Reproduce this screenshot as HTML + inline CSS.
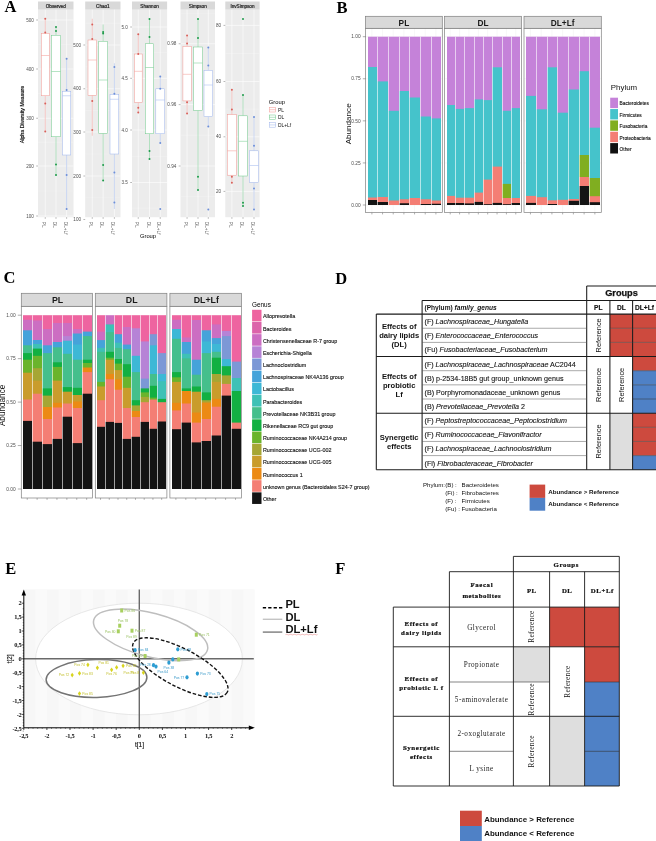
<!DOCTYPE html>
<html><head><meta charset="utf-8"><style>
html,body{margin:0;padding:0;background:#fff;width:656px;height:841px;overflow:hidden}
svg{display:block;will-change:transform}
</style></head><body>
<svg width="656" height="841" viewBox="0 0 656 841">
<rect x="0" y="0" width="656" height="841" fill="#fff"/>
<text x="4.5" y="12.3" font-size="16.5" text-anchor="start" font-weight="bold" font-style="normal" fill="#000" font-family="'Liberation Serif', serif">A</text>
<text x="336.5" y="13.2" font-size="16.5" text-anchor="start" font-weight="bold" font-style="normal" fill="#000" font-family="'Liberation Serif', serif">B</text>
<text x="3.5" y="283.2" font-size="16.5" text-anchor="start" font-weight="bold" font-style="normal" fill="#000" font-family="'Liberation Serif', serif">C</text>
<text x="335.3" y="283.5" font-size="16.5" text-anchor="start" font-weight="bold" font-style="normal" fill="#000" font-family="'Liberation Serif', serif">D</text>
<text x="5.3" y="574.0" font-size="16.5" text-anchor="start" font-weight="bold" font-style="normal" fill="#000" font-family="'Liberation Serif', serif">E</text>
<text x="335.3" y="574.2" font-size="16.5" text-anchor="start" font-weight="bold" font-style="normal" fill="#000" font-family="'Liberation Serif', serif">F</text>
<rect x="38.00" y="9.60" width="35.50" height="207.60" fill="#ECECEC"/>
<rect x="38.00" y="1.50" width="35.50" height="8.10" fill="#D9D9D9"/>
<text x="55.75" y="7.5" font-size="4.6" text-anchor="middle" font-weight="normal" font-style="normal" fill="#222222" font-family="'Liberation Sans', sans-serif" stroke="#222" stroke-width="0.2">Observed</text>
<line x1="38.00" y1="20.00" x2="73.50" y2="20.00" stroke="#FFFFFF" stroke-width="0.6"/>
<text x="33.8" y="21.6" font-size="4.6" text-anchor="end" font-weight="normal" font-style="normal" fill="#4D4D4D" font-family="'Liberation Sans', sans-serif">500</text>
<line x1="36.20" y1="20.00" x2="38.00" y2="20.00" stroke="#4D4D4D" stroke-width="0.4"/>
<line x1="38.00" y1="44.50" x2="73.50" y2="44.50" stroke="#F5F5F5" stroke-width="0.35"/>
<line x1="38.00" y1="69.00" x2="73.50" y2="69.00" stroke="#FFFFFF" stroke-width="0.6"/>
<text x="33.8" y="70.6" font-size="4.6" text-anchor="end" font-weight="normal" font-style="normal" fill="#4D4D4D" font-family="'Liberation Sans', sans-serif">400</text>
<line x1="36.20" y1="69.00" x2="38.00" y2="69.00" stroke="#4D4D4D" stroke-width="0.4"/>
<line x1="38.00" y1="93.62" x2="73.50" y2="93.62" stroke="#F5F5F5" stroke-width="0.35"/>
<line x1="38.00" y1="118.25" x2="73.50" y2="118.25" stroke="#FFFFFF" stroke-width="0.6"/>
<text x="33.8" y="119.85" font-size="4.6" text-anchor="end" font-weight="normal" font-style="normal" fill="#4D4D4D" font-family="'Liberation Sans', sans-serif">300</text>
<line x1="36.20" y1="118.25" x2="38.00" y2="118.25" stroke="#4D4D4D" stroke-width="0.4"/>
<line x1="38.00" y1="142.12" x2="73.50" y2="142.12" stroke="#F5F5F5" stroke-width="0.35"/>
<line x1="38.00" y1="166.00" x2="73.50" y2="166.00" stroke="#FFFFFF" stroke-width="0.6"/>
<text x="33.8" y="167.6" font-size="4.6" text-anchor="end" font-weight="normal" font-style="normal" fill="#4D4D4D" font-family="'Liberation Sans', sans-serif">200</text>
<line x1="36.20" y1="166.00" x2="38.00" y2="166.00" stroke="#4D4D4D" stroke-width="0.4"/>
<line x1="38.00" y1="191.00" x2="73.50" y2="191.00" stroke="#F5F5F5" stroke-width="0.35"/>
<line x1="38.00" y1="216.00" x2="73.50" y2="216.00" stroke="#FFFFFF" stroke-width="0.6"/>
<text x="33.8" y="217.6" font-size="4.6" text-anchor="end" font-weight="normal" font-style="normal" fill="#4D4D4D" font-family="'Liberation Sans', sans-serif">100</text>
<line x1="36.20" y1="216.00" x2="38.00" y2="216.00" stroke="#4D4D4D" stroke-width="0.4"/>
<line x1="45.25" y1="9.60" x2="45.25" y2="217.20" stroke="#FFFFFF" stroke-width="0.6"/>
<line x1="56.00" y1="9.60" x2="56.00" y2="217.20" stroke="#FFFFFF" stroke-width="0.6"/>
<line x1="66.62" y1="9.60" x2="66.62" y2="217.20" stroke="#FFFFFF" stroke-width="0.6"/>
<line x1="45.25" y1="18.75" x2="45.25" y2="33.25" stroke="#F29690" stroke-width="0.5"/>
<line x1="45.25" y1="95.75" x2="45.25" y2="132.00" stroke="#F29690" stroke-width="0.5"/>
<rect x="41.25" y="33.25" width="8.00" height="62.50" fill="#FFFFFF" stroke="#F29690" stroke-width="0.5"/>
<line x1="41.25" y1="55.50" x2="49.25" y2="55.50" stroke="#F29690" stroke-width="0.5"/>
<circle cx="45.25" cy="18.75" r="1.0" fill="#D8605A"/>
<circle cx="45.25" cy="32.50" r="1.0" fill="#D8605A"/>
<circle cx="45.25" cy="103.50" r="1.0" fill="#D8605A"/>
<circle cx="45.25" cy="131.50" r="1.0" fill="#D8605A"/>
<line x1="45.25" y1="217.20" x2="45.25" y2="218.80" stroke="#4D4D4D" stroke-width="0.4"/>
<text x="42.35" y="221.79999999999998" font-size="4.7" text-anchor="start" font-weight="normal" font-style="normal" fill="#555555" font-family="'Liberation Sans', sans-serif" transform="rotate(90 42.35 221.79999999999998)">PL</text>
<line x1="56.00" y1="27.50" x2="56.00" y2="35.25" stroke="#6CC888" stroke-width="0.5"/>
<line x1="56.00" y1="136.75" x2="56.00" y2="175.75" stroke="#6CC888" stroke-width="0.5"/>
<rect x="51.50" y="35.25" width="9.00" height="101.50" fill="#FFFFFF" stroke="#6CC888" stroke-width="0.5"/>
<line x1="51.50" y1="71.50" x2="60.50" y2="71.50" stroke="#6CC888" stroke-width="0.5"/>
<circle cx="56.00" cy="27.00" r="1.0" fill="#1E9A4A"/>
<circle cx="56.00" cy="31.00" r="1.0" fill="#1E9A4A"/>
<circle cx="56.00" cy="164.50" r="1.0" fill="#1E9A4A"/>
<circle cx="56.00" cy="175.00" r="1.0" fill="#1E9A4A"/>
<line x1="56.00" y1="217.20" x2="56.00" y2="218.80" stroke="#4D4D4D" stroke-width="0.4"/>
<text x="53.1" y="221.79999999999998" font-size="4.7" text-anchor="start" font-weight="normal" font-style="normal" fill="#555555" font-family="'Liberation Sans', sans-serif" transform="rotate(90 53.1 221.79999999999998)">DL</text>
<line x1="66.62" y1="58.75" x2="66.62" y2="91.25" stroke="#9DB4EC" stroke-width="0.5"/>
<line x1="66.62" y1="155.00" x2="66.62" y2="209.00" stroke="#9DB4EC" stroke-width="0.5"/>
<rect x="62.50" y="91.25" width="8.25" height="63.75" fill="#FFFFFF" stroke="#9DB4EC" stroke-width="0.5"/>
<line x1="62.50" y1="95.75" x2="70.75" y2="95.75" stroke="#9DB4EC" stroke-width="0.5"/>
<circle cx="66.62" cy="58.75" r="1.0" fill="#6D8FD8"/>
<circle cx="66.62" cy="90.00" r="1.0" fill="#6D8FD8"/>
<circle cx="66.62" cy="175.00" r="1.0" fill="#6D8FD8"/>
<circle cx="66.62" cy="209.00" r="1.0" fill="#6D8FD8"/>
<line x1="66.62" y1="217.20" x2="66.62" y2="218.80" stroke="#4D4D4D" stroke-width="0.4"/>
<text x="63.725" y="221.79999999999998" font-size="4.7" text-anchor="start" font-weight="normal" font-style="normal" fill="#555555" font-family="'Liberation Sans', sans-serif" transform="rotate(90 63.725 221.79999999999998)">DL+Lf</text>
<rect x="85.20" y="9.60" width="35.30" height="207.60" fill="#ECECEC"/>
<rect x="85.20" y="1.50" width="35.30" height="8.10" fill="#D9D9D9"/>
<text x="102.85" y="7.5" font-size="4.6" text-anchor="middle" font-weight="normal" font-style="normal" fill="#222222" font-family="'Liberation Sans', sans-serif" stroke="#222" stroke-width="0.2">Chao1</text>
<line x1="85.20" y1="45.00" x2="120.50" y2="45.00" stroke="#FFFFFF" stroke-width="0.6"/>
<text x="81.0" y="46.6" font-size="4.6" text-anchor="end" font-weight="normal" font-style="normal" fill="#4D4D4D" font-family="'Liberation Sans', sans-serif">500</text>
<line x1="83.40" y1="45.00" x2="85.20" y2="45.00" stroke="#4D4D4D" stroke-width="0.4"/>
<line x1="85.20" y1="66.88" x2="120.50" y2="66.88" stroke="#F5F5F5" stroke-width="0.35"/>
<line x1="85.20" y1="88.75" x2="120.50" y2="88.75" stroke="#FFFFFF" stroke-width="0.6"/>
<text x="81.0" y="90.35" font-size="4.6" text-anchor="end" font-weight="normal" font-style="normal" fill="#4D4D4D" font-family="'Liberation Sans', sans-serif">400</text>
<line x1="83.40" y1="88.75" x2="85.20" y2="88.75" stroke="#4D4D4D" stroke-width="0.4"/>
<line x1="85.20" y1="110.38" x2="120.50" y2="110.38" stroke="#F5F5F5" stroke-width="0.35"/>
<line x1="85.20" y1="132.00" x2="120.50" y2="132.00" stroke="#FFFFFF" stroke-width="0.6"/>
<text x="81.0" y="133.6" font-size="4.6" text-anchor="end" font-weight="normal" font-style="normal" fill="#4D4D4D" font-family="'Liberation Sans', sans-serif">300</text>
<line x1="83.40" y1="132.00" x2="85.20" y2="132.00" stroke="#4D4D4D" stroke-width="0.4"/>
<line x1="85.20" y1="154.00" x2="120.50" y2="154.00" stroke="#F5F5F5" stroke-width="0.35"/>
<line x1="85.20" y1="176.00" x2="120.50" y2="176.00" stroke="#FFFFFF" stroke-width="0.6"/>
<text x="81.0" y="177.6" font-size="4.6" text-anchor="end" font-weight="normal" font-style="normal" fill="#4D4D4D" font-family="'Liberation Sans', sans-serif">200</text>
<line x1="83.40" y1="176.00" x2="85.20" y2="176.00" stroke="#4D4D4D" stroke-width="0.4"/>
<line x1="85.20" y1="197.75" x2="120.50" y2="197.75" stroke="#F5F5F5" stroke-width="0.35"/>
<line x1="85.20" y1="219.50" x2="120.50" y2="219.50" stroke="#FFFFFF" stroke-width="0.6"/>
<text x="81.0" y="221.1" font-size="4.6" text-anchor="end" font-weight="normal" font-style="normal" fill="#4D4D4D" font-family="'Liberation Sans', sans-serif">100</text>
<line x1="83.40" y1="219.50" x2="85.20" y2="219.50" stroke="#4D4D4D" stroke-width="0.4"/>
<line x1="85.20" y1="23.12" x2="120.50" y2="23.12" stroke="#F5F5F5" stroke-width="0.35"/>
<line x1="92.25" y1="9.60" x2="92.25" y2="217.20" stroke="#FFFFFF" stroke-width="0.6"/>
<line x1="103.12" y1="9.60" x2="103.12" y2="217.20" stroke="#FFFFFF" stroke-width="0.6"/>
<line x1="114.38" y1="9.60" x2="114.38" y2="217.20" stroke="#FFFFFF" stroke-width="0.6"/>
<line x1="92.25" y1="18.75" x2="92.25" y2="40.00" stroke="#F29690" stroke-width="0.5"/>
<line x1="92.25" y1="95.25" x2="92.25" y2="135.75" stroke="#F29690" stroke-width="0.5"/>
<rect x="88.00" y="40.00" width="8.50" height="55.25" fill="#FFFFFF" stroke="#F29690" stroke-width="0.5"/>
<line x1="88.00" y1="60.00" x2="96.50" y2="60.00" stroke="#F29690" stroke-width="0.5"/>
<circle cx="92.25" cy="24.50" r="1.0" fill="#D8605A"/>
<circle cx="92.25" cy="39.00" r="1.0" fill="#D8605A"/>
<circle cx="92.25" cy="101.00" r="1.0" fill="#D8605A"/>
<circle cx="92.25" cy="130.00" r="1.0" fill="#D8605A"/>
<line x1="92.25" y1="217.20" x2="92.25" y2="218.80" stroke="#4D4D4D" stroke-width="0.4"/>
<text x="89.35" y="221.79999999999998" font-size="4.7" text-anchor="start" font-weight="normal" font-style="normal" fill="#555555" font-family="'Liberation Sans', sans-serif" transform="rotate(90 89.35 221.79999999999998)">PL</text>
<line x1="103.12" y1="24.50" x2="103.12" y2="41.25" stroke="#6CC888" stroke-width="0.5"/>
<line x1="103.12" y1="133.25" x2="103.12" y2="181.00" stroke="#6CC888" stroke-width="0.5"/>
<rect x="98.75" y="41.25" width="8.75" height="92.00" fill="#FFFFFF" stroke="#6CC888" stroke-width="0.5"/>
<line x1="98.75" y1="80.00" x2="107.50" y2="80.00" stroke="#6CC888" stroke-width="0.5"/>
<circle cx="103.12" cy="32.00" r="1.0" fill="#1E9A4A"/>
<circle cx="103.12" cy="33.50" r="1.0" fill="#1E9A4A"/>
<circle cx="103.12" cy="165.00" r="1.0" fill="#1E9A4A"/>
<circle cx="103.12" cy="180.50" r="1.0" fill="#1E9A4A"/>
<line x1="103.12" y1="217.20" x2="103.12" y2="218.80" stroke="#4D4D4D" stroke-width="0.4"/>
<text x="100.225" y="221.79999999999998" font-size="4.7" text-anchor="start" font-weight="normal" font-style="normal" fill="#555555" font-family="'Liberation Sans', sans-serif" transform="rotate(90 100.225 221.79999999999998)">DL</text>
<line x1="114.38" y1="63.25" x2="114.38" y2="94.25" stroke="#9DB4EC" stroke-width="0.5"/>
<line x1="114.38" y1="154.00" x2="114.38" y2="209.00" stroke="#9DB4EC" stroke-width="0.5"/>
<rect x="110.00" y="94.25" width="8.75" height="59.75" fill="#FFFFFF" stroke="#9DB4EC" stroke-width="0.5"/>
<line x1="110.00" y1="99.25" x2="118.75" y2="99.25" stroke="#9DB4EC" stroke-width="0.5"/>
<circle cx="114.38" cy="67.00" r="1.0" fill="#6D8FD8"/>
<circle cx="114.38" cy="93.75" r="1.0" fill="#6D8FD8"/>
<circle cx="114.38" cy="172.50" r="1.0" fill="#6D8FD8"/>
<circle cx="114.38" cy="202.50" r="1.0" fill="#6D8FD8"/>
<line x1="114.38" y1="217.20" x2="114.38" y2="218.80" stroke="#4D4D4D" stroke-width="0.4"/>
<text x="111.475" y="221.79999999999998" font-size="4.7" text-anchor="start" font-weight="normal" font-style="normal" fill="#555555" font-family="'Liberation Sans', sans-serif" transform="rotate(90 111.475 221.79999999999998)">DL+Lf</text>
<rect x="132.00" y="9.60" width="35.10" height="207.60" fill="#ECECEC"/>
<rect x="132.00" y="1.50" width="35.10" height="8.10" fill="#D9D9D9"/>
<text x="149.55" y="7.5" font-size="4.6" text-anchor="middle" font-weight="normal" font-style="normal" fill="#222222" font-family="'Liberation Sans', sans-serif" stroke="#222" stroke-width="0.2">Shannon</text>
<line x1="132.00" y1="27.00" x2="167.10" y2="27.00" stroke="#FFFFFF" stroke-width="0.6"/>
<text x="127.8" y="28.6" font-size="4.6" text-anchor="end" font-weight="normal" font-style="normal" fill="#4D4D4D" font-family="'Liberation Sans', sans-serif">5.0</text>
<line x1="130.20" y1="27.00" x2="132.00" y2="27.00" stroke="#4D4D4D" stroke-width="0.4"/>
<line x1="132.00" y1="52.65" x2="167.10" y2="52.65" stroke="#F5F5F5" stroke-width="0.35"/>
<line x1="132.00" y1="78.30" x2="167.10" y2="78.30" stroke="#FFFFFF" stroke-width="0.6"/>
<text x="127.8" y="79.89999999999999" font-size="4.6" text-anchor="end" font-weight="normal" font-style="normal" fill="#4D4D4D" font-family="'Liberation Sans', sans-serif">4.5</text>
<line x1="130.20" y1="78.30" x2="132.00" y2="78.30" stroke="#4D4D4D" stroke-width="0.4"/>
<line x1="132.00" y1="104.15" x2="167.10" y2="104.15" stroke="#F5F5F5" stroke-width="0.35"/>
<line x1="132.00" y1="130.00" x2="167.10" y2="130.00" stroke="#FFFFFF" stroke-width="0.6"/>
<text x="127.8" y="131.6" font-size="4.6" text-anchor="end" font-weight="normal" font-style="normal" fill="#4D4D4D" font-family="'Liberation Sans', sans-serif">4.0</text>
<line x1="130.20" y1="130.00" x2="132.00" y2="130.00" stroke="#4D4D4D" stroke-width="0.4"/>
<line x1="132.00" y1="156.25" x2="167.10" y2="156.25" stroke="#F5F5F5" stroke-width="0.35"/>
<line x1="132.00" y1="182.50" x2="167.10" y2="182.50" stroke="#FFFFFF" stroke-width="0.6"/>
<text x="127.8" y="184.1" font-size="4.6" text-anchor="end" font-weight="normal" font-style="normal" fill="#4D4D4D" font-family="'Liberation Sans', sans-serif">3.5</text>
<line x1="130.20" y1="182.50" x2="132.00" y2="182.50" stroke="#4D4D4D" stroke-width="0.4"/>
<line x1="132.00" y1="208.15" x2="167.10" y2="208.15" stroke="#F5F5F5" stroke-width="0.35"/>
<line x1="138.25" y1="9.60" x2="138.25" y2="217.20" stroke="#FFFFFF" stroke-width="0.6"/>
<line x1="149.50" y1="9.60" x2="149.50" y2="217.20" stroke="#FFFFFF" stroke-width="0.6"/>
<line x1="160.25" y1="9.60" x2="160.25" y2="217.20" stroke="#FFFFFF" stroke-width="0.6"/>
<line x1="138.25" y1="34.20" x2="138.25" y2="54.00" stroke="#F29690" stroke-width="0.5"/>
<line x1="138.25" y1="102.40" x2="138.25" y2="112.60" stroke="#F29690" stroke-width="0.5"/>
<rect x="134.30" y="54.00" width="7.90" height="48.40" fill="#FFFFFF" stroke="#F29690" stroke-width="0.5"/>
<line x1="134.30" y1="71.30" x2="142.20" y2="71.30" stroke="#F29690" stroke-width="0.5"/>
<circle cx="138.25" cy="34.20" r="1.0" fill="#D8605A"/>
<circle cx="138.25" cy="54.00" r="1.0" fill="#D8605A"/>
<circle cx="138.25" cy="107.80" r="1.0" fill="#D8605A"/>
<circle cx="138.25" cy="112.60" r="1.0" fill="#D8605A"/>
<line x1="138.25" y1="217.20" x2="138.25" y2="218.80" stroke="#4D4D4D" stroke-width="0.4"/>
<text x="135.35" y="221.79999999999998" font-size="4.7" text-anchor="start" font-weight="normal" font-style="normal" fill="#555555" font-family="'Liberation Sans', sans-serif" transform="rotate(90 135.35 221.79999999999998)">PL</text>
<line x1="149.50" y1="19.00" x2="149.50" y2="43.75" stroke="#6CC888" stroke-width="0.5"/>
<line x1="149.50" y1="133.75" x2="149.50" y2="159.00" stroke="#6CC888" stroke-width="0.5"/>
<rect x="145.40" y="43.75" width="8.20" height="90.00" fill="#FFFFFF" stroke="#6CC888" stroke-width="0.5"/>
<line x1="145.40" y1="67.50" x2="153.60" y2="67.50" stroke="#6CC888" stroke-width="0.5"/>
<circle cx="149.50" cy="19.00" r="1.0" fill="#1E9A4A"/>
<circle cx="149.50" cy="37.00" r="1.0" fill="#1E9A4A"/>
<circle cx="149.50" cy="151.00" r="1.0" fill="#1E9A4A"/>
<circle cx="149.50" cy="159.00" r="1.0" fill="#1E9A4A"/>
<line x1="149.50" y1="217.20" x2="149.50" y2="218.80" stroke="#4D4D4D" stroke-width="0.4"/>
<text x="146.6" y="221.79999999999998" font-size="4.7" text-anchor="start" font-weight="normal" font-style="normal" fill="#555555" font-family="'Liberation Sans', sans-serif" transform="rotate(90 146.6 221.79999999999998)">DL</text>
<line x1="160.25" y1="76.40" x2="160.25" y2="88.80" stroke="#9DB4EC" stroke-width="0.5"/>
<line x1="160.25" y1="133.75" x2="160.25" y2="143.00" stroke="#9DB4EC" stroke-width="0.5"/>
<rect x="155.80" y="88.80" width="8.90" height="44.95" fill="#FFFFFF" stroke="#9DB4EC" stroke-width="0.5"/>
<line x1="155.80" y1="100.00" x2="164.70" y2="100.00" stroke="#9DB4EC" stroke-width="0.5"/>
<circle cx="160.25" cy="76.40" r="1.0" fill="#6D8FD8"/>
<circle cx="160.25" cy="88.80" r="1.0" fill="#6D8FD8"/>
<circle cx="160.25" cy="143.00" r="1.0" fill="#6D8FD8"/>
<circle cx="160.25" cy="209.00" r="1.0" fill="#6D8FD8"/>
<line x1="160.25" y1="217.20" x2="160.25" y2="218.80" stroke="#4D4D4D" stroke-width="0.4"/>
<text x="157.35" y="221.79999999999998" font-size="4.7" text-anchor="start" font-weight="normal" font-style="normal" fill="#555555" font-family="'Liberation Sans', sans-serif" transform="rotate(90 157.35 221.79999999999998)">DL+Lf</text>
<rect x="180.50" y="9.60" width="34.50" height="207.60" fill="#ECECEC"/>
<rect x="180.50" y="1.50" width="34.50" height="8.10" fill="#D9D9D9"/>
<text x="197.75" y="7.5" font-size="4.6" text-anchor="middle" font-weight="normal" font-style="normal" fill="#222222" font-family="'Liberation Sans', sans-serif" stroke="#222" stroke-width="0.2">Simpson</text>
<line x1="180.50" y1="43.75" x2="215.00" y2="43.75" stroke="#FFFFFF" stroke-width="0.6"/>
<text x="176.3" y="45.35" font-size="4.6" text-anchor="end" font-weight="normal" font-style="normal" fill="#4D4D4D" font-family="'Liberation Sans', sans-serif">0.98</text>
<line x1="178.70" y1="43.75" x2="180.50" y2="43.75" stroke="#4D4D4D" stroke-width="0.4"/>
<line x1="180.50" y1="74.17" x2="215.00" y2="74.17" stroke="#F5F5F5" stroke-width="0.35"/>
<line x1="180.50" y1="104.60" x2="215.00" y2="104.60" stroke="#FFFFFF" stroke-width="0.6"/>
<text x="176.3" y="106.19999999999999" font-size="4.6" text-anchor="end" font-weight="normal" font-style="normal" fill="#4D4D4D" font-family="'Liberation Sans', sans-serif">0.96</text>
<line x1="178.70" y1="104.60" x2="180.50" y2="104.60" stroke="#4D4D4D" stroke-width="0.4"/>
<line x1="180.50" y1="135.30" x2="215.00" y2="135.30" stroke="#F5F5F5" stroke-width="0.35"/>
<line x1="180.50" y1="166.00" x2="215.00" y2="166.00" stroke="#FFFFFF" stroke-width="0.6"/>
<text x="176.3" y="167.6" font-size="4.6" text-anchor="end" font-weight="normal" font-style="normal" fill="#4D4D4D" font-family="'Liberation Sans', sans-serif">0.94</text>
<line x1="178.70" y1="166.00" x2="180.50" y2="166.00" stroke="#4D4D4D" stroke-width="0.4"/>
<line x1="180.50" y1="13.33" x2="215.00" y2="13.33" stroke="#F5F5F5" stroke-width="0.35"/>
<line x1="180.50" y1="196.43" x2="215.00" y2="196.43" stroke="#F5F5F5" stroke-width="0.35"/>
<line x1="187.07" y1="9.60" x2="187.07" y2="217.20" stroke="#FFFFFF" stroke-width="0.6"/>
<line x1="198.00" y1="9.60" x2="198.00" y2="217.20" stroke="#FFFFFF" stroke-width="0.6"/>
<line x1="208.30" y1="9.60" x2="208.30" y2="217.20" stroke="#FFFFFF" stroke-width="0.6"/>
<line x1="187.07" y1="35.40" x2="187.07" y2="46.40" stroke="#F29690" stroke-width="0.5"/>
<line x1="187.07" y1="100.90" x2="187.07" y2="113.60" stroke="#F29690" stroke-width="0.5"/>
<rect x="182.90" y="46.40" width="8.35" height="54.50" fill="#FFFFFF" stroke="#F29690" stroke-width="0.5"/>
<line x1="182.90" y1="74.30" x2="191.25" y2="74.30" stroke="#F29690" stroke-width="0.5"/>
<circle cx="187.07" cy="35.40" r="1.0" fill="#D8605A"/>
<circle cx="187.07" cy="43.40" r="1.0" fill="#D8605A"/>
<circle cx="187.07" cy="102.30" r="1.0" fill="#D8605A"/>
<circle cx="187.07" cy="113.60" r="1.0" fill="#D8605A"/>
<line x1="187.07" y1="217.20" x2="187.07" y2="218.80" stroke="#4D4D4D" stroke-width="0.4"/>
<text x="184.17499999999998" y="221.79999999999998" font-size="4.7" text-anchor="start" font-weight="normal" font-style="normal" fill="#555555" font-family="'Liberation Sans', sans-serif" transform="rotate(90 184.17499999999998 221.79999999999998)">PL</text>
<line x1="198.00" y1="19.00" x2="198.00" y2="47.00" stroke="#6CC888" stroke-width="0.5"/>
<line x1="198.00" y1="110.40" x2="198.00" y2="190.00" stroke="#6CC888" stroke-width="0.5"/>
<rect x="193.60" y="47.00" width="8.80" height="63.40" fill="#FFFFFF" stroke="#6CC888" stroke-width="0.5"/>
<line x1="193.60" y1="63.00" x2="202.40" y2="63.00" stroke="#6CC888" stroke-width="0.5"/>
<circle cx="198.00" cy="19.00" r="1.0" fill="#1E9A4A"/>
<circle cx="198.00" cy="38.00" r="1.0" fill="#1E9A4A"/>
<circle cx="198.00" cy="176.80" r="1.0" fill="#1E9A4A"/>
<circle cx="198.00" cy="190.00" r="1.0" fill="#1E9A4A"/>
<line x1="198.00" y1="217.20" x2="198.00" y2="218.80" stroke="#4D4D4D" stroke-width="0.4"/>
<text x="195.1" y="221.79999999999998" font-size="4.7" text-anchor="start" font-weight="normal" font-style="normal" fill="#555555" font-family="'Liberation Sans', sans-serif" transform="rotate(90 195.1 221.79999999999998)">DL</text>
<line x1="208.30" y1="47.50" x2="208.30" y2="70.40" stroke="#9DB4EC" stroke-width="0.5"/>
<line x1="208.30" y1="116.50" x2="208.30" y2="126.60" stroke="#9DB4EC" stroke-width="0.5"/>
<rect x="204.00" y="70.40" width="8.60" height="46.10" fill="#FFFFFF" stroke="#9DB4EC" stroke-width="0.5"/>
<line x1="204.00" y1="85.00" x2="212.60" y2="85.00" stroke="#9DB4EC" stroke-width="0.5"/>
<circle cx="208.30" cy="47.50" r="1.0" fill="#6D8FD8"/>
<circle cx="208.30" cy="65.60" r="1.0" fill="#6D8FD8"/>
<circle cx="208.30" cy="126.60" r="1.0" fill="#6D8FD8"/>
<circle cx="208.30" cy="209.50" r="1.0" fill="#6D8FD8"/>
<line x1="208.30" y1="217.20" x2="208.30" y2="218.80" stroke="#4D4D4D" stroke-width="0.4"/>
<text x="205.4" y="221.79999999999998" font-size="4.7" text-anchor="start" font-weight="normal" font-style="normal" fill="#555555" font-family="'Liberation Sans', sans-serif" transform="rotate(90 205.4 221.79999999999998)">DL+Lf</text>
<rect x="225.30" y="9.60" width="34.30" height="207.60" fill="#ECECEC"/>
<rect x="225.30" y="1.50" width="34.30" height="8.10" fill="#D9D9D9"/>
<text x="242.45000000000002" y="7.5" font-size="4.6" text-anchor="middle" font-weight="normal" font-style="normal" fill="#222222" font-family="'Liberation Sans', sans-serif" stroke="#222" stroke-width="0.2">InvSimpson</text>
<line x1="225.30" y1="25.40" x2="259.60" y2="25.40" stroke="#FFFFFF" stroke-width="0.6"/>
<text x="221.10000000000002" y="27.0" font-size="4.6" text-anchor="end" font-weight="normal" font-style="normal" fill="#4D4D4D" font-family="'Liberation Sans', sans-serif">80</text>
<line x1="223.50" y1="25.40" x2="225.30" y2="25.40" stroke="#4D4D4D" stroke-width="0.4"/>
<line x1="225.30" y1="53.45" x2="259.60" y2="53.45" stroke="#F5F5F5" stroke-width="0.35"/>
<line x1="225.30" y1="81.50" x2="259.60" y2="81.50" stroke="#FFFFFF" stroke-width="0.6"/>
<text x="221.10000000000002" y="83.1" font-size="4.6" text-anchor="end" font-weight="normal" font-style="normal" fill="#4D4D4D" font-family="'Liberation Sans', sans-serif">60</text>
<line x1="223.50" y1="81.50" x2="225.30" y2="81.50" stroke="#4D4D4D" stroke-width="0.4"/>
<line x1="225.30" y1="109.15" x2="259.60" y2="109.15" stroke="#F5F5F5" stroke-width="0.35"/>
<line x1="225.30" y1="136.80" x2="259.60" y2="136.80" stroke="#FFFFFF" stroke-width="0.6"/>
<text x="221.10000000000002" y="138.4" font-size="4.6" text-anchor="end" font-weight="normal" font-style="normal" fill="#4D4D4D" font-family="'Liberation Sans', sans-serif">40</text>
<line x1="223.50" y1="136.80" x2="225.30" y2="136.80" stroke="#4D4D4D" stroke-width="0.4"/>
<line x1="225.30" y1="164.10" x2="259.60" y2="164.10" stroke="#F5F5F5" stroke-width="0.35"/>
<line x1="225.30" y1="191.40" x2="259.60" y2="191.40" stroke="#FFFFFF" stroke-width="0.6"/>
<text x="221.10000000000002" y="193.0" font-size="4.6" text-anchor="end" font-weight="normal" font-style="normal" fill="#4D4D4D" font-family="'Liberation Sans', sans-serif">20</text>
<line x1="223.50" y1="191.40" x2="225.30" y2="191.40" stroke="#4D4D4D" stroke-width="0.4"/>
<line x1="231.90" y1="9.60" x2="231.90" y2="217.20" stroke="#FFFFFF" stroke-width="0.6"/>
<line x1="243.00" y1="9.60" x2="243.00" y2="217.20" stroke="#FFFFFF" stroke-width="0.6"/>
<line x1="254.00" y1="9.60" x2="254.00" y2="217.20" stroke="#FFFFFF" stroke-width="0.6"/>
<line x1="231.90" y1="89.70" x2="231.90" y2="114.70" stroke="#F29690" stroke-width="0.5"/>
<line x1="231.90" y1="175.20" x2="231.90" y2="182.80" stroke="#F29690" stroke-width="0.5"/>
<rect x="227.40" y="114.70" width="9.00" height="60.50" fill="#FFFFFF" stroke="#F29690" stroke-width="0.5"/>
<line x1="227.40" y1="150.80" x2="236.40" y2="150.80" stroke="#F29690" stroke-width="0.5"/>
<circle cx="231.90" cy="89.70" r="1.0" fill="#D8605A"/>
<circle cx="231.90" cy="109.50" r="1.0" fill="#D8605A"/>
<circle cx="231.90" cy="176.70" r="1.0" fill="#D8605A"/>
<circle cx="231.90" cy="182.80" r="1.0" fill="#D8605A"/>
<line x1="231.90" y1="217.20" x2="231.90" y2="218.80" stroke="#4D4D4D" stroke-width="0.4"/>
<text x="229.0" y="221.79999999999998" font-size="4.7" text-anchor="start" font-weight="normal" font-style="normal" fill="#555555" font-family="'Liberation Sans', sans-serif" transform="rotate(90 229.0 221.79999999999998)">PL</text>
<line x1="243.00" y1="95.00" x2="243.00" y2="115.80" stroke="#6CC888" stroke-width="0.5"/>
<line x1="243.00" y1="176.00" x2="243.00" y2="206.00" stroke="#6CC888" stroke-width="0.5"/>
<rect x="238.70" y="115.80" width="8.60" height="60.20" fill="#FFFFFF" stroke="#6CC888" stroke-width="0.5"/>
<line x1="238.70" y1="141.30" x2="247.30" y2="141.30" stroke="#6CC888" stroke-width="0.5"/>
<circle cx="243.00" cy="19.00" r="1.0" fill="#1E9A4A"/>
<circle cx="243.00" cy="95.00" r="1.0" fill="#1E9A4A"/>
<circle cx="243.00" cy="202.70" r="1.0" fill="#1E9A4A"/>
<circle cx="243.00" cy="206.00" r="1.0" fill="#1E9A4A"/>
<line x1="243.00" y1="217.20" x2="243.00" y2="218.80" stroke="#4D4D4D" stroke-width="0.4"/>
<text x="240.1" y="221.79999999999998" font-size="4.7" text-anchor="start" font-weight="normal" font-style="normal" fill="#555555" font-family="'Liberation Sans', sans-serif" transform="rotate(90 240.1 221.79999999999998)">DL</text>
<line x1="254.00" y1="117.00" x2="254.00" y2="150.80" stroke="#9DB4EC" stroke-width="0.5"/>
<line x1="254.00" y1="182.40" x2="254.00" y2="209.50" stroke="#9DB4EC" stroke-width="0.5"/>
<rect x="249.50" y="150.80" width="9.00" height="31.60" fill="#FFFFFF" stroke="#9DB4EC" stroke-width="0.5"/>
<line x1="249.50" y1="165.50" x2="258.50" y2="165.50" stroke="#9DB4EC" stroke-width="0.5"/>
<circle cx="254.00" cy="117.00" r="1.0" fill="#6D8FD8"/>
<circle cx="254.00" cy="145.80" r="1.0" fill="#6D8FD8"/>
<circle cx="254.00" cy="188.50" r="1.0" fill="#6D8FD8"/>
<circle cx="254.00" cy="209.50" r="1.0" fill="#6D8FD8"/>
<line x1="254.00" y1="217.20" x2="254.00" y2="218.80" stroke="#4D4D4D" stroke-width="0.4"/>
<text x="251.1" y="221.79999999999998" font-size="4.7" text-anchor="start" font-weight="normal" font-style="normal" fill="#555555" font-family="'Liberation Sans', sans-serif" transform="rotate(90 251.1 221.79999999999998)">DL+Lf</text>
<text x="24.0" y="114.6" font-size="5.3" text-anchor="middle" font-weight="normal" font-style="normal" fill="#000" font-family="'Liberation Sans', sans-serif" transform="rotate(-90 24.0 114.6)" stroke="#000" stroke-width="0.15">Alpha Diversity Measure</text>
<text x="148" y="237.5" font-size="5.8" text-anchor="middle" font-weight="normal" font-style="normal" fill="#000" font-family="'Liberation Sans', sans-serif">Group</text>
<text x="268.8" y="104.2" font-size="5.8" text-anchor="start" font-weight="normal" font-style="normal" fill="#000" font-family="'Liberation Sans', sans-serif">Group</text>
<rect x="269.40" y="107.40" width="6.20" height="4.60" fill="#FFFFFF" stroke="#F29690" stroke-width="0.5"/>
<line x1="269.40" y1="109.70" x2="275.60" y2="109.70" stroke="#F29690" stroke-width="0.5"/>
<text x="278" y="111.7" font-size="4.9" text-anchor="start" font-weight="normal" font-style="normal" fill="#111" font-family="'Liberation Sans', sans-serif">PL</text>
<rect x="269.40" y="115.00" width="6.20" height="4.60" fill="#FFFFFF" stroke="#6CC888" stroke-width="0.5"/>
<line x1="269.40" y1="117.30" x2="275.60" y2="117.30" stroke="#6CC888" stroke-width="0.5"/>
<text x="278" y="119.3" font-size="4.9" text-anchor="start" font-weight="normal" font-style="normal" fill="#111" font-family="'Liberation Sans', sans-serif">DL</text>
<rect x="269.40" y="122.60" width="6.20" height="4.60" fill="#FFFFFF" stroke="#9DB4EC" stroke-width="0.5"/>
<line x1="269.40" y1="124.90" x2="275.60" y2="124.90" stroke="#9DB4EC" stroke-width="0.5"/>
<text x="278" y="126.9" font-size="4.9" text-anchor="start" font-weight="normal" font-style="normal" fill="#111" font-family="'Liberation Sans', sans-serif">DL+Lf</text>
<rect x="365.50" y="28.30" width="76.80" height="184.30" fill="#FFFFFF"/>
<line x1="365.50" y1="205.00" x2="442.30" y2="205.00" stroke="#EBEBEB" stroke-width="0.4"/>
<line x1="365.50" y1="162.93" x2="442.30" y2="162.93" stroke="#EBEBEB" stroke-width="0.4"/>
<line x1="365.50" y1="120.85" x2="442.30" y2="120.85" stroke="#EBEBEB" stroke-width="0.4"/>
<line x1="365.50" y1="78.77" x2="442.30" y2="78.77" stroke="#EBEBEB" stroke-width="0.4"/>
<line x1="365.50" y1="36.70" x2="442.30" y2="36.70" stroke="#EBEBEB" stroke-width="0.4"/>
<line x1="371.90" y1="28.30" x2="371.90" y2="212.60" stroke="#EBEBEB" stroke-width="0.4"/>
<line x1="382.57" y1="28.30" x2="382.57" y2="212.60" stroke="#EBEBEB" stroke-width="0.4"/>
<line x1="393.23" y1="28.30" x2="393.23" y2="212.60" stroke="#EBEBEB" stroke-width="0.4"/>
<line x1="403.90" y1="28.30" x2="403.90" y2="212.60" stroke="#EBEBEB" stroke-width="0.4"/>
<line x1="414.57" y1="28.30" x2="414.57" y2="212.60" stroke="#EBEBEB" stroke-width="0.4"/>
<line x1="425.23" y1="28.30" x2="425.23" y2="212.60" stroke="#EBEBEB" stroke-width="0.4"/>
<line x1="435.90" y1="28.30" x2="435.90" y2="212.60" stroke="#EBEBEB" stroke-width="0.4"/>
<rect x="368.00" y="36.70" width="9.00" height="168.30" fill="#C582D9"/>
<rect x="368.00" y="67.00" width="9.00" height="138.00" fill="#45C3CB"/>
<rect x="368.00" y="197.50" width="9.00" height="7.50" fill="#F47E74"/>
<rect x="368.00" y="200.00" width="9.00" height="5.00" fill="#141414"/>
<line x1="371.90" y1="212.60" x2="371.90" y2="214.40" stroke="#333333" stroke-width="0.4"/>
<rect x="377.00" y="36.70" width="11.00" height="168.30" fill="#C582D9"/>
<rect x="377.00" y="81.40" width="11.00" height="123.60" fill="#45C3CB"/>
<rect x="377.00" y="197.00" width="11.00" height="8.00" fill="#F47E74"/>
<rect x="377.00" y="202.00" width="11.00" height="3.00" fill="#141414"/>
<rect x="377.00" y="36.70" width="1.00" height="168.30" fill="#FFFFFF" opacity="0.6"/>
<line x1="382.57" y1="212.60" x2="382.57" y2="214.40" stroke="#333333" stroke-width="0.4"/>
<rect x="388.00" y="36.70" width="11.00" height="168.30" fill="#C582D9"/>
<rect x="388.00" y="110.80" width="11.00" height="94.20" fill="#45C3CB"/>
<rect x="388.00" y="200.50" width="11.00" height="4.50" fill="#F47E74"/>
<rect x="388.00" y="36.70" width="1.00" height="168.30" fill="#FFFFFF" opacity="0.6"/>
<line x1="393.23" y1="212.60" x2="393.23" y2="214.40" stroke="#333333" stroke-width="0.4"/>
<rect x="399.00" y="36.70" width="10.00" height="168.30" fill="#C582D9"/>
<rect x="399.00" y="91.00" width="10.00" height="114.00" fill="#45C3CB"/>
<rect x="399.00" y="199.25" width="10.00" height="5.75" fill="#F47E74"/>
<rect x="399.00" y="203.25" width="10.00" height="1.75" fill="#141414"/>
<rect x="399.00" y="36.70" width="1.00" height="168.30" fill="#FFFFFF" opacity="0.6"/>
<line x1="403.90" y1="212.60" x2="403.90" y2="214.40" stroke="#333333" stroke-width="0.4"/>
<rect x="409.00" y="36.70" width="11.00" height="168.30" fill="#C582D9"/>
<rect x="409.00" y="97.50" width="11.00" height="107.50" fill="#45C3CB"/>
<rect x="409.00" y="198.00" width="11.00" height="7.00" fill="#F47E74"/>
<rect x="409.00" y="36.70" width="1.00" height="168.30" fill="#FFFFFF" opacity="0.6"/>
<line x1="414.57" y1="212.60" x2="414.57" y2="214.40" stroke="#333333" stroke-width="0.4"/>
<rect x="420.00" y="36.70" width="11.00" height="168.30" fill="#C582D9"/>
<rect x="420.00" y="116.50" width="11.00" height="88.50" fill="#45C3CB"/>
<rect x="420.00" y="199.25" width="11.00" height="5.75" fill="#F47E74"/>
<rect x="420.00" y="204.00" width="11.00" height="1.00" fill="#141414"/>
<rect x="420.00" y="36.70" width="1.00" height="168.30" fill="#FFFFFF" opacity="0.6"/>
<line x1="425.23" y1="212.60" x2="425.23" y2="214.40" stroke="#333333" stroke-width="0.4"/>
<rect x="431.00" y="36.70" width="10.00" height="168.30" fill="#C582D9"/>
<rect x="431.00" y="118.40" width="10.00" height="86.60" fill="#45C3CB"/>
<rect x="431.00" y="200.50" width="10.00" height="4.50" fill="#F47E74"/>
<rect x="431.00" y="203.75" width="10.00" height="1.25" fill="#141414"/>
<rect x="431.00" y="36.70" width="1.00" height="168.30" fill="#FFFFFF" opacity="0.6"/>
<line x1="435.90" y1="212.60" x2="435.90" y2="214.40" stroke="#333333" stroke-width="0.4"/>
<rect x="365.50" y="28.30" width="76.80" height="184.30" fill="none" stroke="#7F7F7F" stroke-width="0.7"/>
<rect x="365.50" y="16.30" width="76.80" height="12.00" fill="#D9D9D9" stroke="#7F7F7F" stroke-width="0.7"/>
<text x="403.9" y="25.5" font-size="8.3" text-anchor="middle" font-weight="bold" font-style="normal" fill="#1A1A1A" font-family="'Liberation Sans', sans-serif">PL</text>
<rect x="444.60" y="28.30" width="76.80" height="184.30" fill="#FFFFFF"/>
<line x1="444.60" y1="205.00" x2="521.40" y2="205.00" stroke="#EBEBEB" stroke-width="0.4"/>
<line x1="444.60" y1="162.93" x2="521.40" y2="162.93" stroke="#EBEBEB" stroke-width="0.4"/>
<line x1="444.60" y1="120.85" x2="521.40" y2="120.85" stroke="#EBEBEB" stroke-width="0.4"/>
<line x1="444.60" y1="78.77" x2="521.40" y2="78.77" stroke="#EBEBEB" stroke-width="0.4"/>
<line x1="444.60" y1="36.70" x2="521.40" y2="36.70" stroke="#EBEBEB" stroke-width="0.4"/>
<line x1="450.22" y1="28.30" x2="450.22" y2="212.60" stroke="#EBEBEB" stroke-width="0.4"/>
<line x1="459.59" y1="28.30" x2="459.59" y2="212.60" stroke="#EBEBEB" stroke-width="0.4"/>
<line x1="468.95" y1="28.30" x2="468.95" y2="212.60" stroke="#EBEBEB" stroke-width="0.4"/>
<line x1="478.32" y1="28.30" x2="478.32" y2="212.60" stroke="#EBEBEB" stroke-width="0.4"/>
<line x1="487.68" y1="28.30" x2="487.68" y2="212.60" stroke="#EBEBEB" stroke-width="0.4"/>
<line x1="497.05" y1="28.30" x2="497.05" y2="212.60" stroke="#EBEBEB" stroke-width="0.4"/>
<line x1="506.41" y1="28.30" x2="506.41" y2="212.60" stroke="#EBEBEB" stroke-width="0.4"/>
<line x1="515.78" y1="28.30" x2="515.78" y2="212.60" stroke="#EBEBEB" stroke-width="0.4"/>
<rect x="447.00" y="36.70" width="8.00" height="168.30" fill="#C582D9"/>
<rect x="447.00" y="105.00" width="8.00" height="100.00" fill="#45C3CB"/>
<rect x="447.00" y="195.90" width="8.00" height="9.10" fill="#F47E74"/>
<rect x="447.00" y="203.00" width="8.00" height="2.00" fill="#141414"/>
<line x1="450.22" y1="212.60" x2="450.22" y2="214.40" stroke="#333333" stroke-width="0.4"/>
<rect x="455.00" y="36.70" width="9.00" height="168.30" fill="#C582D9"/>
<rect x="455.00" y="108.90" width="9.00" height="96.10" fill="#45C3CB"/>
<rect x="455.00" y="197.70" width="9.00" height="7.30" fill="#F47E74"/>
<rect x="455.00" y="203.00" width="9.00" height="2.00" fill="#141414"/>
<rect x="455.00" y="36.70" width="1.00" height="168.30" fill="#FFFFFF" opacity="0.6"/>
<line x1="459.59" y1="212.60" x2="459.59" y2="214.40" stroke="#333333" stroke-width="0.4"/>
<rect x="464.00" y="36.70" width="10.00" height="168.30" fill="#C582D9"/>
<rect x="464.00" y="108.10" width="10.00" height="96.90" fill="#45C3CB"/>
<rect x="464.00" y="197.70" width="10.00" height="7.30" fill="#F47E74"/>
<rect x="464.00" y="203.40" width="10.00" height="1.60" fill="#141414"/>
<rect x="464.00" y="36.70" width="1.00" height="168.30" fill="#FFFFFF" opacity="0.6"/>
<line x1="468.95" y1="212.60" x2="468.95" y2="214.40" stroke="#333333" stroke-width="0.4"/>
<rect x="474.00" y="36.70" width="9.00" height="168.30" fill="#C582D9"/>
<rect x="474.00" y="99.40" width="9.00" height="105.60" fill="#45C3CB"/>
<rect x="474.00" y="192.60" width="9.00" height="12.40" fill="#F47E74"/>
<rect x="474.00" y="201.90" width="9.00" height="3.10" fill="#141414"/>
<rect x="474.00" y="36.70" width="1.00" height="168.30" fill="#FFFFFF" opacity="0.6"/>
<line x1="478.32" y1="212.60" x2="478.32" y2="214.40" stroke="#333333" stroke-width="0.4"/>
<rect x="483.00" y="36.70" width="9.00" height="168.30" fill="#C582D9"/>
<rect x="483.00" y="100.10" width="9.00" height="104.90" fill="#45C3CB"/>
<rect x="483.00" y="179.60" width="9.00" height="25.40" fill="#F47E74"/>
<rect x="483.00" y="204.20" width="9.00" height="0.80" fill="#141414"/>
<rect x="483.00" y="36.70" width="1.00" height="168.30" fill="#FFFFFF" opacity="0.6"/>
<line x1="487.68" y1="212.60" x2="487.68" y2="214.40" stroke="#333333" stroke-width="0.4"/>
<rect x="492.00" y="36.70" width="10.00" height="168.30" fill="#C582D9"/>
<rect x="492.00" y="67.30" width="10.00" height="137.70" fill="#45C3CB"/>
<rect x="492.00" y="166.60" width="10.00" height="38.40" fill="#F47E74"/>
<rect x="492.00" y="202.90" width="10.00" height="2.10" fill="#141414"/>
<rect x="492.00" y="36.70" width="1.00" height="168.30" fill="#FFFFFF" opacity="0.6"/>
<line x1="497.05" y1="212.60" x2="497.05" y2="214.40" stroke="#333333" stroke-width="0.4"/>
<rect x="502.00" y="36.70" width="9.00" height="168.30" fill="#C582D9"/>
<rect x="502.00" y="110.80" width="9.00" height="94.20" fill="#45C3CB"/>
<rect x="502.00" y="183.90" width="9.00" height="21.10" fill="#80AE20"/>
<rect x="502.00" y="198.00" width="9.00" height="7.00" fill="#F47E74"/>
<rect x="502.00" y="204.20" width="9.00" height="0.80" fill="#141414"/>
<rect x="502.00" y="36.70" width="1.00" height="168.30" fill="#FFFFFF" opacity="0.6"/>
<line x1="506.41" y1="212.60" x2="506.41" y2="214.40" stroke="#333333" stroke-width="0.4"/>
<rect x="511.00" y="36.70" width="9.00" height="168.30" fill="#C582D9"/>
<rect x="511.00" y="108.10" width="9.00" height="96.90" fill="#45C3CB"/>
<rect x="511.00" y="198.00" width="9.00" height="7.00" fill="#F47E74"/>
<rect x="511.00" y="203.00" width="9.00" height="2.00" fill="#141414"/>
<rect x="511.00" y="36.70" width="1.00" height="168.30" fill="#FFFFFF" opacity="0.6"/>
<line x1="515.78" y1="212.60" x2="515.78" y2="214.40" stroke="#333333" stroke-width="0.4"/>
<rect x="444.60" y="28.30" width="76.80" height="184.30" fill="none" stroke="#7F7F7F" stroke-width="0.7"/>
<rect x="444.60" y="16.30" width="76.80" height="12.00" fill="#D9D9D9" stroke="#7F7F7F" stroke-width="0.7"/>
<text x="483.0" y="25.5" font-size="8.3" text-anchor="middle" font-weight="bold" font-style="normal" fill="#1A1A1A" font-family="'Liberation Sans', sans-serif">DL</text>
<rect x="524.00" y="28.30" width="77.30" height="184.30" fill="#FFFFFF"/>
<line x1="524.00" y1="205.00" x2="601.30" y2="205.00" stroke="#EBEBEB" stroke-width="0.4"/>
<line x1="524.00" y1="162.93" x2="601.30" y2="162.93" stroke="#EBEBEB" stroke-width="0.4"/>
<line x1="524.00" y1="120.85" x2="601.30" y2="120.85" stroke="#EBEBEB" stroke-width="0.4"/>
<line x1="524.00" y1="78.77" x2="601.30" y2="78.77" stroke="#EBEBEB" stroke-width="0.4"/>
<line x1="524.00" y1="36.70" x2="601.30" y2="36.70" stroke="#EBEBEB" stroke-width="0.4"/>
<line x1="530.44" y1="28.30" x2="530.44" y2="212.60" stroke="#EBEBEB" stroke-width="0.4"/>
<line x1="541.18" y1="28.30" x2="541.18" y2="212.60" stroke="#EBEBEB" stroke-width="0.4"/>
<line x1="551.91" y1="28.30" x2="551.91" y2="212.60" stroke="#EBEBEB" stroke-width="0.4"/>
<line x1="562.65" y1="28.30" x2="562.65" y2="212.60" stroke="#EBEBEB" stroke-width="0.4"/>
<line x1="573.39" y1="28.30" x2="573.39" y2="212.60" stroke="#EBEBEB" stroke-width="0.4"/>
<line x1="584.12" y1="28.30" x2="584.12" y2="212.60" stroke="#EBEBEB" stroke-width="0.4"/>
<line x1="594.86" y1="28.30" x2="594.86" y2="212.60" stroke="#EBEBEB" stroke-width="0.4"/>
<rect x="526.00" y="36.70" width="10.00" height="168.30" fill="#C582D9"/>
<rect x="526.00" y="95.90" width="10.00" height="109.10" fill="#45C3CB"/>
<rect x="526.00" y="195.90" width="10.00" height="9.10" fill="#F47E74"/>
<rect x="526.00" y="202.90" width="10.00" height="2.10" fill="#141414"/>
<line x1="530.44" y1="212.60" x2="530.44" y2="214.40" stroke="#333333" stroke-width="0.4"/>
<rect x="536.00" y="36.70" width="11.00" height="168.30" fill="#C582D9"/>
<rect x="536.00" y="109.30" width="11.00" height="95.70" fill="#45C3CB"/>
<rect x="536.00" y="197.20" width="11.00" height="7.80" fill="#F47E74"/>
<rect x="536.00" y="36.70" width="1.00" height="168.30" fill="#FFFFFF" opacity="0.6"/>
<line x1="541.18" y1="212.60" x2="541.18" y2="214.40" stroke="#333333" stroke-width="0.4"/>
<rect x="547.00" y="36.70" width="10.00" height="168.30" fill="#C582D9"/>
<rect x="547.00" y="67.30" width="10.00" height="137.70" fill="#45C3CB"/>
<rect x="547.00" y="200.30" width="10.00" height="4.70" fill="#F47E74"/>
<rect x="547.00" y="204.00" width="10.00" height="1.00" fill="#141414"/>
<rect x="547.00" y="36.70" width="1.00" height="168.30" fill="#FFFFFF" opacity="0.6"/>
<line x1="551.91" y1="212.60" x2="551.91" y2="214.40" stroke="#333333" stroke-width="0.4"/>
<rect x="557.00" y="36.70" width="11.00" height="168.30" fill="#C582D9"/>
<rect x="557.00" y="112.70" width="11.00" height="92.30" fill="#45C3CB"/>
<rect x="557.00" y="199.80" width="11.00" height="5.20" fill="#F47E74"/>
<rect x="557.00" y="36.70" width="1.00" height="168.30" fill="#FFFFFF" opacity="0.6"/>
<line x1="562.65" y1="212.60" x2="562.65" y2="214.40" stroke="#333333" stroke-width="0.4"/>
<rect x="568.00" y="36.70" width="11.00" height="168.30" fill="#C582D9"/>
<rect x="568.00" y="89.50" width="11.00" height="115.50" fill="#45C3CB"/>
<rect x="568.00" y="199.00" width="11.00" height="6.00" fill="#F47E74"/>
<rect x="568.00" y="200.80" width="11.00" height="4.20" fill="#141414"/>
<rect x="568.00" y="36.70" width="1.00" height="168.30" fill="#FFFFFF" opacity="0.6"/>
<line x1="573.39" y1="212.60" x2="573.39" y2="214.40" stroke="#333333" stroke-width="0.4"/>
<rect x="579.00" y="36.70" width="10.00" height="168.30" fill="#C582D9"/>
<rect x="579.00" y="71.20" width="10.00" height="133.80" fill="#45C3CB"/>
<rect x="579.00" y="155.00" width="10.00" height="50.00" fill="#80AE20"/>
<rect x="579.00" y="177.00" width="10.00" height="28.00" fill="#F47E74"/>
<rect x="579.00" y="186.00" width="10.00" height="19.00" fill="#141414"/>
<rect x="579.00" y="36.70" width="1.00" height="168.30" fill="#FFFFFF" opacity="0.6"/>
<line x1="584.12" y1="212.60" x2="584.12" y2="214.40" stroke="#333333" stroke-width="0.4"/>
<rect x="589.00" y="36.70" width="11.00" height="168.30" fill="#C582D9"/>
<rect x="589.00" y="127.70" width="11.00" height="77.30" fill="#45C3CB"/>
<rect x="589.00" y="178.00" width="11.00" height="27.00" fill="#80AE20"/>
<rect x="589.00" y="196.20" width="11.00" height="8.80" fill="#F47E74"/>
<rect x="589.00" y="202.20" width="11.00" height="2.80" fill="#141414"/>
<rect x="589.00" y="36.70" width="1.00" height="168.30" fill="#FFFFFF" opacity="0.6"/>
<line x1="594.86" y1="212.60" x2="594.86" y2="214.40" stroke="#333333" stroke-width="0.4"/>
<rect x="524.00" y="28.30" width="77.30" height="184.30" fill="none" stroke="#7F7F7F" stroke-width="0.7"/>
<rect x="524.00" y="16.30" width="77.30" height="12.00" fill="#D9D9D9" stroke="#7F7F7F" stroke-width="0.7"/>
<text x="562.65" y="25.5" font-size="8.3" text-anchor="middle" font-weight="bold" font-style="normal" fill="#1A1A1A" font-family="'Liberation Sans', sans-serif">DL+Lf</text>
<text x="360.6" y="206.7" font-size="4.8" text-anchor="end" font-weight="normal" font-style="normal" fill="#4D4D4D" font-family="'Liberation Sans', sans-serif">0.00</text>
<line x1="362.80" y1="205.00" x2="365.50" y2="205.00" stroke="#333333" stroke-width="0.4"/>
<text x="360.6" y="164.625" font-size="4.8" text-anchor="end" font-weight="normal" font-style="normal" fill="#4D4D4D" font-family="'Liberation Sans', sans-serif">0.25</text>
<line x1="362.80" y1="162.93" x2="365.50" y2="162.93" stroke="#333333" stroke-width="0.4"/>
<text x="360.6" y="122.55" font-size="4.8" text-anchor="end" font-weight="normal" font-style="normal" fill="#4D4D4D" font-family="'Liberation Sans', sans-serif">0.50</text>
<line x1="362.80" y1="120.85" x2="365.50" y2="120.85" stroke="#333333" stroke-width="0.4"/>
<text x="360.6" y="80.475" font-size="4.8" text-anchor="end" font-weight="normal" font-style="normal" fill="#4D4D4D" font-family="'Liberation Sans', sans-serif">0.75</text>
<line x1="362.80" y1="78.77" x2="365.50" y2="78.77" stroke="#333333" stroke-width="0.4"/>
<text x="360.6" y="38.39999999999999" font-size="4.8" text-anchor="end" font-weight="normal" font-style="normal" fill="#4D4D4D" font-family="'Liberation Sans', sans-serif">1.00</text>
<line x1="362.80" y1="36.70" x2="365.50" y2="36.70" stroke="#333333" stroke-width="0.4"/>
<text x="351.3" y="123.8" font-size="8.1" text-anchor="middle" font-weight="normal" font-style="normal" fill="#111" font-family="'Liberation Sans', sans-serif" transform="rotate(-90 351.3 123.8)">Abundance</text>
<text x="610.8" y="90.4" font-size="7.9" text-anchor="start" font-weight="normal" font-style="normal" fill="#111" font-family="'Liberation Sans', sans-serif">Phylum</text>
<rect x="610.20" y="97.70" width="7.80" height="10.40" fill="#C582D9"/>
<text x="619.6" y="105.0" font-size="4.8" text-anchor="start" font-weight="normal" font-style="normal" fill="#111111" font-family="'Liberation Sans', sans-serif" stroke="#111" stroke-width="0.12">Bacteroidetes</text>
<rect x="610.20" y="109.05" width="7.80" height="10.40" fill="#45C3CB"/>
<text x="619.6" y="116.6" font-size="4.8" text-anchor="start" font-weight="normal" font-style="normal" fill="#111111" font-family="'Liberation Sans', sans-serif" stroke="#111" stroke-width="0.12">Firmicutes</text>
<rect x="610.20" y="120.40" width="7.80" height="10.40" fill="#80AE20"/>
<text x="619.6" y="128.2" font-size="4.8" text-anchor="start" font-weight="normal" font-style="normal" fill="#111111" font-family="'Liberation Sans', sans-serif" stroke="#111" stroke-width="0.12">Fusobacteria</text>
<rect x="610.20" y="131.75" width="7.80" height="10.40" fill="#F47E74"/>
<text x="619.6" y="139.8" font-size="4.8" text-anchor="start" font-weight="normal" font-style="normal" fill="#111111" font-family="'Liberation Sans', sans-serif" stroke="#111" stroke-width="0.12">Proteobacteria</text>
<rect x="610.20" y="143.10" width="7.80" height="10.40" fill="#111111"/>
<text x="619.6" y="151.4" font-size="4.8" text-anchor="start" font-weight="normal" font-style="normal" fill="#111111" font-family="'Liberation Sans', sans-serif" stroke="#111" stroke-width="0.12">Other</text>
<rect x="21.30" y="306.30" width="71.30" height="191.70" fill="#FFFFFF"/>
<rect x="23.00" y="315.20" width="9.00" height="173.80" fill="#EE64A0"/>
<rect x="23.00" y="319.80" width="9.00" height="169.20" fill="#CC6EC2"/>
<rect x="23.00" y="330.30" width="9.00" height="158.70" fill="#45A3DA"/>
<rect x="23.00" y="345.30" width="9.00" height="143.70" fill="#45BF8C"/>
<rect x="23.00" y="353.10" width="9.00" height="135.90" fill="#12B042"/>
<rect x="23.00" y="359.70" width="9.00" height="129.30" fill="#6AB42C"/>
<rect x="23.00" y="372.70" width="9.00" height="116.30" fill="#C99C2C"/>
<rect x="23.00" y="399.50" width="9.00" height="89.50" fill="#F47E74"/>
<rect x="23.00" y="420.90" width="9.00" height="68.10" fill="#141414"/>
<line x1="27.24" y1="498.00" x2="27.24" y2="499.80" stroke="#333333" stroke-width="0.4"/>
<rect x="32.00" y="315.20" width="10.00" height="173.80" fill="#EE64A0"/>
<rect x="32.00" y="320.50" width="10.00" height="168.50" fill="#CC6EC2"/>
<rect x="32.00" y="340.00" width="10.00" height="149.00" fill="#45A3DA"/>
<rect x="32.00" y="344.00" width="10.00" height="145.00" fill="#3EC1B6"/>
<rect x="32.00" y="348.60" width="10.00" height="140.40" fill="#12B042"/>
<rect x="32.00" y="355.80" width="10.00" height="133.20" fill="#6AB42C"/>
<rect x="32.00" y="368.20" width="10.00" height="120.80" fill="#A6A634"/>
<rect x="32.00" y="380.60" width="10.00" height="108.40" fill="#C99C2C"/>
<rect x="32.00" y="393.70" width="10.00" height="95.30" fill="#F47E74"/>
<rect x="32.00" y="441.70" width="10.00" height="47.30" fill="#141414"/>
<rect x="32.00" y="315.20" width="1.00" height="173.80" fill="#FFFFFF" opacity="0.6"/>
<line x1="37.14" y1="498.00" x2="37.14" y2="499.80" stroke="#333333" stroke-width="0.4"/>
<rect x="42.00" y="315.20" width="10.00" height="173.80" fill="#EE64A0"/>
<rect x="42.00" y="329.00" width="10.00" height="160.00" fill="#CC6EC2"/>
<rect x="42.00" y="345.30" width="10.00" height="143.70" fill="#45A3DA"/>
<rect x="42.00" y="353.10" width="10.00" height="135.90" fill="#45BF8C"/>
<rect x="42.00" y="388.40" width="10.00" height="100.60" fill="#12B042"/>
<rect x="42.00" y="395.60" width="10.00" height="93.40" fill="#A6A634"/>
<rect x="42.00" y="407.00" width="10.00" height="82.00" fill="#EC8A14"/>
<rect x="42.00" y="419.00" width="10.00" height="70.00" fill="#F47E74"/>
<rect x="42.00" y="444.10" width="10.00" height="44.90" fill="#141414"/>
<rect x="42.00" y="315.20" width="1.00" height="173.80" fill="#FFFFFF" opacity="0.6"/>
<line x1="47.05" y1="498.00" x2="47.05" y2="499.80" stroke="#333333" stroke-width="0.4"/>
<rect x="52.00" y="315.20" width="10.00" height="173.80" fill="#EE64A0"/>
<rect x="52.00" y="323.00" width="10.00" height="166.00" fill="#CC6EC2"/>
<rect x="52.00" y="342.00" width="10.00" height="147.00" fill="#45A3DA"/>
<rect x="52.00" y="347.30" width="10.00" height="141.70" fill="#45BF8C"/>
<rect x="52.00" y="362.30" width="10.00" height="126.70" fill="#12B042"/>
<rect x="52.00" y="366.90" width="10.00" height="122.10" fill="#6AB42C"/>
<rect x="52.00" y="380.60" width="10.00" height="108.40" fill="#C99C2C"/>
<rect x="52.00" y="402.80" width="10.00" height="86.20" fill="#EC8A14"/>
<rect x="52.00" y="407.50" width="10.00" height="81.50" fill="#F47E74"/>
<rect x="52.00" y="438.90" width="10.00" height="50.10" fill="#141414"/>
<rect x="52.00" y="315.20" width="1.00" height="173.80" fill="#FFFFFF" opacity="0.6"/>
<line x1="56.95" y1="498.00" x2="56.95" y2="499.80" stroke="#333333" stroke-width="0.4"/>
<rect x="62.00" y="315.20" width="10.00" height="173.80" fill="#EE64A0"/>
<rect x="62.00" y="323.00" width="10.00" height="166.00" fill="#CC6EC2"/>
<rect x="62.00" y="336.10" width="10.00" height="152.90" fill="#B683D6"/>
<rect x="62.00" y="340.70" width="10.00" height="148.30" fill="#3DB8D6"/>
<rect x="62.00" y="353.80" width="10.00" height="135.20" fill="#45BF8C"/>
<rect x="62.00" y="387.10" width="10.00" height="101.90" fill="#12B042"/>
<rect x="62.00" y="391.70" width="10.00" height="97.30" fill="#C99C2C"/>
<rect x="62.00" y="403.50" width="10.00" height="85.50" fill="#F47E74"/>
<rect x="62.00" y="416.70" width="10.00" height="72.30" fill="#141414"/>
<rect x="62.00" y="315.20" width="1.00" height="173.80" fill="#FFFFFF" opacity="0.6"/>
<line x1="66.85" y1="498.00" x2="66.85" y2="499.80" stroke="#333333" stroke-width="0.4"/>
<rect x="72.00" y="315.20" width="10.00" height="173.80" fill="#EE64A0"/>
<rect x="72.00" y="329.00" width="10.00" height="160.00" fill="#CC6EC2"/>
<rect x="72.00" y="333.50" width="10.00" height="155.50" fill="#45A3DA"/>
<rect x="72.00" y="344.60" width="10.00" height="144.40" fill="#3DB8D6"/>
<rect x="72.00" y="359.70" width="10.00" height="129.30" fill="#45BF8C"/>
<rect x="72.00" y="387.80" width="10.00" height="101.20" fill="#12B042"/>
<rect x="72.00" y="395.00" width="10.00" height="94.00" fill="#C99C2C"/>
<rect x="72.00" y="401.50" width="10.00" height="87.50" fill="#EC8A14"/>
<rect x="72.00" y="408.00" width="10.00" height="81.00" fill="#F47E74"/>
<rect x="72.00" y="443.10" width="10.00" height="45.90" fill="#141414"/>
<rect x="72.00" y="315.20" width="1.00" height="173.80" fill="#FFFFFF" opacity="0.6"/>
<line x1="76.76" y1="498.00" x2="76.76" y2="499.80" stroke="#333333" stroke-width="0.4"/>
<rect x="82.00" y="315.20" width="10.00" height="173.80" fill="#EE64A0"/>
<rect x="82.00" y="331.60" width="10.00" height="157.40" fill="#45A3DA"/>
<rect x="82.00" y="336.10" width="10.00" height="152.90" fill="#45BF8C"/>
<rect x="82.00" y="359.70" width="10.00" height="129.30" fill="#12B042"/>
<rect x="82.00" y="363.00" width="10.00" height="126.00" fill="#6AB42C"/>
<rect x="82.00" y="367.50" width="10.00" height="121.50" fill="#EC8A14"/>
<rect x="82.00" y="372.10" width="10.00" height="116.90" fill="#F47E74"/>
<rect x="82.00" y="393.70" width="10.00" height="95.30" fill="#141414"/>
<rect x="82.00" y="315.20" width="1.00" height="173.80" fill="#FFFFFF" opacity="0.6"/>
<line x1="86.66" y1="498.00" x2="86.66" y2="499.80" stroke="#333333" stroke-width="0.4"/>
<rect x="21.30" y="306.30" width="71.30" height="191.70" fill="none" stroke="#7F7F7F" stroke-width="0.7"/>
<rect x="21.30" y="293.30" width="71.30" height="13.00" fill="#D9D9D9" stroke="#7F7F7F" stroke-width="0.7"/>
<text x="57.55" y="303.3" font-size="8.8" text-anchor="middle" font-weight="bold" font-style="normal" fill="#1A1A1A" font-family="'Liberation Sans', sans-serif">PL</text>
<rect x="95.30" y="306.30" width="71.60" height="191.70" fill="#FFFFFF"/>
<rect x="97.00" y="315.20" width="8.00" height="173.80" fill="#EE64A0"/>
<rect x="97.00" y="331.60" width="8.00" height="157.40" fill="#CC6EC2"/>
<rect x="97.00" y="340.10" width="8.00" height="148.90" fill="#45A3DA"/>
<rect x="97.00" y="347.90" width="8.00" height="141.10" fill="#3EC1B6"/>
<rect x="97.00" y="351.80" width="8.00" height="137.20" fill="#45BF8C"/>
<rect x="97.00" y="381.90" width="8.00" height="107.10" fill="#6AB42C"/>
<rect x="97.00" y="386.50" width="8.00" height="102.50" fill="#C99C2C"/>
<rect x="97.00" y="400.20" width="8.00" height="88.80" fill="#F47E74"/>
<rect x="97.00" y="426.80" width="8.00" height="62.20" fill="#141414"/>
<line x1="100.54" y1="498.00" x2="100.54" y2="499.80" stroke="#333333" stroke-width="0.4"/>
<rect x="105.00" y="315.20" width="9.00" height="173.80" fill="#CC6EC2"/>
<rect x="105.00" y="324.40" width="9.00" height="164.60" fill="#3EC1B6"/>
<rect x="105.00" y="332.20" width="9.00" height="156.80" fill="#45BF8C"/>
<rect x="105.00" y="351.80" width="9.00" height="137.20" fill="#12B042"/>
<rect x="105.00" y="357.70" width="9.00" height="131.30" fill="#6AB42C"/>
<rect x="105.00" y="359.70" width="9.00" height="129.30" fill="#C99C2C"/>
<rect x="105.00" y="374.00" width="9.00" height="115.00" fill="#EC8A14"/>
<rect x="105.00" y="379.30" width="9.00" height="109.70" fill="#F47E74"/>
<rect x="105.00" y="421.90" width="9.00" height="67.10" fill="#141414"/>
<rect x="105.00" y="315.20" width="1.00" height="173.80" fill="#FFFFFF" opacity="0.6"/>
<line x1="109.27" y1="498.00" x2="109.27" y2="499.80" stroke="#333333" stroke-width="0.4"/>
<rect x="114.00" y="315.20" width="8.00" height="173.80" fill="#EE64A0"/>
<rect x="114.00" y="334.20" width="8.00" height="154.80" fill="#45A3DA"/>
<rect x="114.00" y="342.70" width="8.00" height="146.30" fill="#3EC1B6"/>
<rect x="114.00" y="347.90" width="8.00" height="141.10" fill="#45BF8C"/>
<rect x="114.00" y="359.00" width="8.00" height="130.00" fill="#12B042"/>
<rect x="114.00" y="363.60" width="8.00" height="125.40" fill="#6AB42C"/>
<rect x="114.00" y="370.10" width="8.00" height="118.90" fill="#C99C2C"/>
<rect x="114.00" y="379.30" width="8.00" height="109.70" fill="#EC8A14"/>
<rect x="114.00" y="389.70" width="8.00" height="99.30" fill="#F47E74"/>
<rect x="114.00" y="422.90" width="8.00" height="66.10" fill="#141414"/>
<rect x="114.00" y="315.20" width="1.00" height="173.80" fill="#FFFFFF" opacity="0.6"/>
<line x1="118.00" y1="498.00" x2="118.00" y2="499.80" stroke="#333333" stroke-width="0.4"/>
<rect x="122.00" y="315.20" width="9.00" height="173.80" fill="#EE64A0"/>
<rect x="122.00" y="327.00" width="9.00" height="162.00" fill="#CC6EC2"/>
<rect x="122.00" y="344.60" width="9.00" height="144.40" fill="#45A3DA"/>
<rect x="122.00" y="349.20" width="9.00" height="139.80" fill="#45BF8C"/>
<rect x="122.00" y="364.20" width="9.00" height="124.80" fill="#12B042"/>
<rect x="122.00" y="376.70" width="9.00" height="112.30" fill="#6AB42C"/>
<rect x="122.00" y="387.80" width="9.00" height="101.20" fill="#C99C2C"/>
<rect x="122.00" y="408.00" width="9.00" height="81.00" fill="#F47E74"/>
<rect x="122.00" y="438.90" width="9.00" height="50.10" fill="#141414"/>
<rect x="122.00" y="315.20" width="1.00" height="173.80" fill="#FFFFFF" opacity="0.6"/>
<line x1="126.73" y1="498.00" x2="126.73" y2="499.80" stroke="#333333" stroke-width="0.4"/>
<rect x="131.00" y="315.20" width="9.00" height="173.80" fill="#EE64A0"/>
<rect x="131.00" y="328.30" width="9.00" height="160.70" fill="#B683D6"/>
<rect x="131.00" y="355.80" width="9.00" height="133.20" fill="#3DB8D6"/>
<rect x="131.00" y="372.10" width="9.00" height="116.90" fill="#45BF8C"/>
<rect x="131.00" y="400.20" width="9.00" height="88.80" fill="#12B042"/>
<rect x="131.00" y="405.40" width="9.00" height="83.60" fill="#A6A634"/>
<rect x="131.00" y="411.00" width="9.00" height="78.00" fill="#EC8A14"/>
<rect x="131.00" y="417.00" width="9.00" height="72.00" fill="#F47E74"/>
<rect x="131.00" y="436.80" width="9.00" height="52.20" fill="#141414"/>
<rect x="131.00" y="315.20" width="1.00" height="173.80" fill="#FFFFFF" opacity="0.6"/>
<line x1="135.47" y1="498.00" x2="135.47" y2="499.80" stroke="#333333" stroke-width="0.4"/>
<rect x="140.00" y="315.20" width="9.00" height="173.80" fill="#EE64A0"/>
<rect x="140.00" y="341.40" width="9.00" height="147.60" fill="#B683D6"/>
<rect x="140.00" y="378.60" width="9.00" height="110.40" fill="#7C98D6"/>
<rect x="140.00" y="388.40" width="9.00" height="100.60" fill="#12B042"/>
<rect x="140.00" y="392.40" width="9.00" height="96.60" fill="#6AB42C"/>
<rect x="140.00" y="396.90" width="9.00" height="92.10" fill="#A6A634"/>
<rect x="140.00" y="402.20" width="9.00" height="86.80" fill="#F47E74"/>
<rect x="140.00" y="421.90" width="9.00" height="67.10" fill="#141414"/>
<rect x="140.00" y="315.20" width="1.00" height="173.80" fill="#FFFFFF" opacity="0.6"/>
<line x1="144.20" y1="498.00" x2="144.20" y2="499.80" stroke="#333333" stroke-width="0.4"/>
<rect x="149.00" y="315.20" width="8.00" height="173.80" fill="#EE64A0"/>
<rect x="149.00" y="334.20" width="8.00" height="154.80" fill="#7C98D6"/>
<rect x="149.00" y="345.30" width="8.00" height="143.70" fill="#3DB8D6"/>
<rect x="149.00" y="374.00" width="8.00" height="115.00" fill="#45BF8C"/>
<rect x="149.00" y="385.80" width="8.00" height="103.20" fill="#12B042"/>
<rect x="149.00" y="397.60" width="8.00" height="91.40" fill="#6AB42C"/>
<rect x="149.00" y="399.50" width="8.00" height="89.50" fill="#F47E74"/>
<rect x="149.00" y="428.80" width="8.00" height="60.20" fill="#141414"/>
<rect x="149.00" y="315.20" width="1.00" height="173.80" fill="#FFFFFF" opacity="0.6"/>
<line x1="152.93" y1="498.00" x2="152.93" y2="499.80" stroke="#333333" stroke-width="0.4"/>
<rect x="157.00" y="315.20" width="9.00" height="173.80" fill="#EE64A0"/>
<rect x="157.00" y="353.10" width="9.00" height="135.90" fill="#7C98D6"/>
<rect x="157.00" y="374.00" width="9.00" height="115.00" fill="#3DB8D6"/>
<rect x="157.00" y="381.20" width="9.00" height="107.80" fill="#3EC1B6"/>
<rect x="157.00" y="398.90" width="9.00" height="90.10" fill="#12B042"/>
<rect x="157.00" y="402.20" width="9.00" height="86.80" fill="#F47E74"/>
<rect x="157.00" y="421.50" width="9.00" height="67.50" fill="#141414"/>
<rect x="157.00" y="315.20" width="1.00" height="173.80" fill="#FFFFFF" opacity="0.6"/>
<line x1="161.66" y1="498.00" x2="161.66" y2="499.80" stroke="#333333" stroke-width="0.4"/>
<rect x="95.30" y="306.30" width="71.60" height="191.70" fill="none" stroke="#7F7F7F" stroke-width="0.7"/>
<rect x="95.30" y="293.30" width="71.60" height="13.00" fill="#D9D9D9" stroke="#7F7F7F" stroke-width="0.7"/>
<text x="131.7" y="303.3" font-size="8.8" text-anchor="middle" font-weight="bold" font-style="normal" fill="#1A1A1A" font-family="'Liberation Sans', sans-serif">DL</text>
<rect x="169.90" y="306.30" width="71.60" height="191.70" fill="#FFFFFF"/>
<rect x="172.00" y="315.20" width="9.00" height="173.80" fill="#EE64A0"/>
<rect x="172.00" y="319.80" width="9.00" height="169.20" fill="#CC6EC2"/>
<rect x="172.00" y="329.00" width="9.00" height="160.00" fill="#3DB8D6"/>
<rect x="172.00" y="338.80" width="9.00" height="150.20" fill="#45BF8C"/>
<rect x="172.00" y="372.10" width="9.00" height="116.90" fill="#12B042"/>
<rect x="172.00" y="377.30" width="9.00" height="111.70" fill="#6AB42C"/>
<rect x="172.00" y="381.90" width="9.00" height="107.10" fill="#C99C2C"/>
<rect x="172.00" y="402.80" width="9.00" height="86.20" fill="#EC8A14"/>
<rect x="172.00" y="410.40" width="9.00" height="78.60" fill="#F47E74"/>
<rect x="172.00" y="429.20" width="9.00" height="59.80" fill="#141414"/>
<line x1="175.87" y1="498.00" x2="175.87" y2="499.80" stroke="#333333" stroke-width="0.4"/>
<rect x="181.00" y="315.20" width="10.00" height="173.80" fill="#EE64A0"/>
<rect x="181.00" y="337.50" width="10.00" height="151.50" fill="#CC6EC2"/>
<rect x="181.00" y="342.00" width="10.00" height="147.00" fill="#45A3DA"/>
<rect x="181.00" y="353.80" width="10.00" height="135.20" fill="#3EC1B6"/>
<rect x="181.00" y="358.40" width="10.00" height="130.60" fill="#45BF8C"/>
<rect x="181.00" y="388.40" width="10.00" height="100.60" fill="#12B042"/>
<rect x="181.00" y="391.00" width="10.00" height="98.00" fill="#EC8A14"/>
<rect x="181.00" y="403.50" width="10.00" height="85.50" fill="#F47E74"/>
<rect x="181.00" y="422.60" width="10.00" height="66.40" fill="#141414"/>
<rect x="181.00" y="315.20" width="1.00" height="173.80" fill="#FFFFFF" opacity="0.6"/>
<line x1="185.81" y1="498.00" x2="185.81" y2="499.80" stroke="#333333" stroke-width="0.4"/>
<rect x="191.00" y="315.20" width="10.00" height="173.80" fill="#EE64A0"/>
<rect x="191.00" y="320.00" width="10.00" height="169.00" fill="#CC6EC2"/>
<rect x="191.00" y="359.70" width="10.00" height="129.30" fill="#45A3DA"/>
<rect x="191.00" y="374.70" width="10.00" height="114.30" fill="#45BF8C"/>
<rect x="191.00" y="386.50" width="10.00" height="102.50" fill="#12B042"/>
<rect x="191.00" y="391.70" width="10.00" height="97.30" fill="#C99C2C"/>
<rect x="191.00" y="412.50" width="10.00" height="76.50" fill="#EC8A14"/>
<rect x="191.00" y="422.60" width="10.00" height="66.40" fill="#F47E74"/>
<rect x="191.00" y="442.40" width="10.00" height="46.60" fill="#141414"/>
<rect x="191.00" y="315.20" width="1.00" height="173.80" fill="#FFFFFF" opacity="0.6"/>
<line x1="195.76" y1="498.00" x2="195.76" y2="499.80" stroke="#333333" stroke-width="0.4"/>
<rect x="201.00" y="315.20" width="10.00" height="173.80" fill="#EE64A0"/>
<rect x="201.00" y="330.30" width="10.00" height="158.70" fill="#45A3DA"/>
<rect x="201.00" y="341.40" width="10.00" height="147.60" fill="#3DB8D6"/>
<rect x="201.00" y="353.10" width="10.00" height="135.90" fill="#45BF8C"/>
<rect x="201.00" y="392.40" width="10.00" height="96.60" fill="#12B042"/>
<rect x="201.00" y="400.20" width="10.00" height="88.80" fill="#A6A634"/>
<rect x="201.00" y="402.50" width="10.00" height="86.50" fill="#EC8A14"/>
<rect x="201.00" y="419.00" width="10.00" height="70.00" fill="#F47E74"/>
<rect x="201.00" y="441.00" width="10.00" height="48.00" fill="#141414"/>
<rect x="201.00" y="315.20" width="1.00" height="173.80" fill="#FFFFFF" opacity="0.6"/>
<line x1="205.70" y1="498.00" x2="205.70" y2="499.80" stroke="#333333" stroke-width="0.4"/>
<rect x="211.00" y="315.20" width="10.00" height="173.80" fill="#EE64A0"/>
<rect x="211.00" y="324.40" width="10.00" height="164.60" fill="#CC6EC2"/>
<rect x="211.00" y="338.10" width="10.00" height="150.90" fill="#45A3DA"/>
<rect x="211.00" y="344.00" width="10.00" height="145.00" fill="#3DB8D6"/>
<rect x="211.00" y="351.80" width="10.00" height="137.20" fill="#45BF8C"/>
<rect x="211.00" y="357.70" width="10.00" height="131.30" fill="#12B042"/>
<rect x="211.00" y="374.00" width="10.00" height="115.00" fill="#A6A634"/>
<rect x="211.00" y="381.90" width="10.00" height="107.10" fill="#C99C2C"/>
<rect x="211.00" y="398.90" width="10.00" height="90.10" fill="#EC8A14"/>
<rect x="211.00" y="406.70" width="10.00" height="82.30" fill="#F47E74"/>
<rect x="211.00" y="435.50" width="10.00" height="53.50" fill="#141414"/>
<rect x="211.00" y="315.20" width="1.00" height="173.80" fill="#FFFFFF" opacity="0.6"/>
<line x1="215.64" y1="498.00" x2="215.64" y2="499.80" stroke="#333333" stroke-width="0.4"/>
<rect x="221.00" y="315.20" width="10.00" height="173.80" fill="#EE64A0"/>
<rect x="221.00" y="330.90" width="10.00" height="158.10" fill="#B683D6"/>
<rect x="221.00" y="336.10" width="10.00" height="152.90" fill="#7C98D6"/>
<rect x="221.00" y="359.00" width="10.00" height="130.00" fill="#3DB8D6"/>
<rect x="221.00" y="366.20" width="10.00" height="122.80" fill="#12B042"/>
<rect x="221.00" y="375.40" width="10.00" height="113.60" fill="#A6A634"/>
<rect x="221.00" y="383.90" width="10.00" height="105.10" fill="#F47E74"/>
<rect x="221.00" y="395.60" width="10.00" height="93.40" fill="#141414"/>
<rect x="221.00" y="315.20" width="1.00" height="173.80" fill="#FFFFFF" opacity="0.6"/>
<line x1="225.59" y1="498.00" x2="225.59" y2="499.80" stroke="#333333" stroke-width="0.4"/>
<rect x="231.00" y="315.20" width="10.00" height="173.80" fill="#EE64A0"/>
<rect x="231.00" y="361.60" width="10.00" height="127.40" fill="#7C98D6"/>
<rect x="231.00" y="378.00" width="10.00" height="111.00" fill="#3EC1B6"/>
<rect x="231.00" y="391.00" width="10.00" height="98.00" fill="#12B042"/>
<rect x="231.00" y="422.60" width="10.00" height="66.40" fill="#F47E74"/>
<rect x="231.00" y="428.80" width="10.00" height="60.20" fill="#141414"/>
<rect x="231.00" y="315.20" width="1.00" height="173.80" fill="#FFFFFF" opacity="0.6"/>
<line x1="235.53" y1="498.00" x2="235.53" y2="499.80" stroke="#333333" stroke-width="0.4"/>
<rect x="169.90" y="306.30" width="71.60" height="191.70" fill="none" stroke="#7F7F7F" stroke-width="0.7"/>
<rect x="169.90" y="293.30" width="71.60" height="13.00" fill="#D9D9D9" stroke="#7F7F7F" stroke-width="0.7"/>
<text x="206.29999999999998" y="303.3" font-size="8.8" text-anchor="middle" font-weight="bold" font-style="normal" fill="#1A1A1A" font-family="'Liberation Sans', sans-serif">DL+Lf</text>
<text x="15.6" y="490.7" font-size="4.8" text-anchor="end" font-weight="normal" font-style="normal" fill="#4D4D4D" font-family="'Liberation Sans', sans-serif">0.00</text>
<line x1="17.80" y1="489.00" x2="21.30" y2="489.00" stroke="#333333" stroke-width="0.4"/>
<text x="15.6" y="447.25" font-size="4.8" text-anchor="end" font-weight="normal" font-style="normal" fill="#4D4D4D" font-family="'Liberation Sans', sans-serif">0.25</text>
<line x1="17.80" y1="445.55" x2="21.30" y2="445.55" stroke="#333333" stroke-width="0.4"/>
<text x="15.6" y="403.8" font-size="4.8" text-anchor="end" font-weight="normal" font-style="normal" fill="#4D4D4D" font-family="'Liberation Sans', sans-serif">0.50</text>
<line x1="17.80" y1="402.10" x2="21.30" y2="402.10" stroke="#333333" stroke-width="0.4"/>
<text x="15.6" y="360.34999999999997" font-size="4.8" text-anchor="end" font-weight="normal" font-style="normal" fill="#4D4D4D" font-family="'Liberation Sans', sans-serif">0.75</text>
<line x1="17.80" y1="358.65" x2="21.30" y2="358.65" stroke="#333333" stroke-width="0.4"/>
<text x="15.6" y="316.9" font-size="4.8" text-anchor="end" font-weight="normal" font-style="normal" fill="#4D4D4D" font-family="'Liberation Sans', sans-serif">1.00</text>
<line x1="17.80" y1="315.20" x2="21.30" y2="315.20" stroke="#333333" stroke-width="0.4"/>
<text x="5.3" y="405.4" font-size="8.2" text-anchor="middle" font-weight="normal" font-style="normal" fill="#111" font-family="'Liberation Sans', sans-serif" transform="rotate(-90 5.3 405.4)">Abundance</text>
<text x="252" y="306.6" font-size="6.4" text-anchor="start" font-weight="normal" font-style="normal" fill="#000" font-family="'Liberation Sans', sans-serif">Genus</text>
<rect x="252.10" y="309.80" width="9.40" height="11.60" fill="#EE64A0"/>
<text x="262.9" y="318.4" font-size="5.4" text-anchor="start" font-weight="normal" font-style="normal" fill="#111111" font-family="'Liberation Sans', sans-serif" stroke="#111" stroke-width="0.12">Alloprevotella</text>
<rect x="252.10" y="321.97" width="9.40" height="11.60" fill="#DC64AA"/>
<text x="262.9" y="330.57" font-size="5.4" text-anchor="start" font-weight="normal" font-style="normal" fill="#111111" font-family="'Liberation Sans', sans-serif" stroke="#111" stroke-width="0.12">Bacteroides</text>
<rect x="252.10" y="334.14" width="9.40" height="11.60" fill="#CC6EC2"/>
<text x="262.9" y="342.73999999999995" font-size="5.4" text-anchor="start" font-weight="normal" font-style="normal" fill="#111111" font-family="'Liberation Sans', sans-serif" stroke="#111" stroke-width="0.12">Christensenellaceae R-7 group</text>
<rect x="252.10" y="346.31" width="9.40" height="11.60" fill="#B683D6"/>
<text x="262.9" y="354.90999999999997" font-size="5.4" text-anchor="start" font-weight="normal" font-style="normal" fill="#111111" font-family="'Liberation Sans', sans-serif" stroke="#111" stroke-width="0.12">Escherichia-Shigella</text>
<rect x="252.10" y="358.48" width="9.40" height="11.60" fill="#7C98D6"/>
<text x="262.9" y="367.08" font-size="5.4" text-anchor="start" font-weight="normal" font-style="normal" fill="#111111" font-family="'Liberation Sans', sans-serif" stroke="#111" stroke-width="0.12">Lachnoclostridium</text>
<rect x="252.10" y="370.65" width="9.40" height="11.60" fill="#45A3DA"/>
<text x="262.9" y="379.25" font-size="5.4" text-anchor="start" font-weight="normal" font-style="normal" fill="#111111" font-family="'Liberation Sans', sans-serif" stroke="#111" stroke-width="0.12">Lachnospiraceae NK4A136 group</text>
<rect x="252.10" y="382.82" width="9.40" height="11.60" fill="#3DB8D6"/>
<text x="262.9" y="391.41999999999996" font-size="5.4" text-anchor="start" font-weight="normal" font-style="normal" fill="#111111" font-family="'Liberation Sans', sans-serif" stroke="#111" stroke-width="0.12">Lactobacillus</text>
<rect x="252.10" y="394.99" width="9.40" height="11.60" fill="#3EC1B6"/>
<text x="262.9" y="403.59" font-size="5.4" text-anchor="start" font-weight="normal" font-style="normal" fill="#111111" font-family="'Liberation Sans', sans-serif" stroke="#111" stroke-width="0.12">Parabacteroides</text>
<rect x="252.10" y="407.16" width="9.40" height="11.60" fill="#45BF8C"/>
<text x="262.9" y="415.76" font-size="5.4" text-anchor="start" font-weight="normal" font-style="normal" fill="#111111" font-family="'Liberation Sans', sans-serif" stroke="#111" stroke-width="0.12">Prevotellaceae NK3B31 group</text>
<rect x="252.10" y="419.33" width="9.40" height="11.60" fill="#12B042"/>
<text x="262.9" y="427.92999999999995" font-size="5.4" text-anchor="start" font-weight="normal" font-style="normal" fill="#111111" font-family="'Liberation Sans', sans-serif" stroke="#111" stroke-width="0.12">Rikenellaceae RC9 gut group</text>
<rect x="252.10" y="431.50" width="9.40" height="11.60" fill="#6AB42C"/>
<text x="262.9" y="440.09999999999997" font-size="5.4" text-anchor="start" font-weight="normal" font-style="normal" fill="#111111" font-family="'Liberation Sans', sans-serif" stroke="#111" stroke-width="0.12">Ruminococcaceae NK4A214 group</text>
<rect x="252.10" y="443.67" width="9.40" height="11.60" fill="#A6A634"/>
<text x="262.9" y="452.27" font-size="5.4" text-anchor="start" font-weight="normal" font-style="normal" fill="#111111" font-family="'Liberation Sans', sans-serif" stroke="#111" stroke-width="0.12">Ruminococcaceae UCG-002</text>
<rect x="252.10" y="455.84" width="9.40" height="11.60" fill="#C99C2C"/>
<text x="262.9" y="464.43999999999994" font-size="5.4" text-anchor="start" font-weight="normal" font-style="normal" fill="#111111" font-family="'Liberation Sans', sans-serif" stroke="#111" stroke-width="0.12">Ruminococcaceae UCG-005</text>
<rect x="252.10" y="468.01" width="9.40" height="11.60" fill="#EC8A14"/>
<text x="262.9" y="476.61" font-size="5.4" text-anchor="start" font-weight="normal" font-style="normal" fill="#111111" font-family="'Liberation Sans', sans-serif" stroke="#111" stroke-width="0.12">Ruminococcus 1</text>
<rect x="252.10" y="480.18" width="9.40" height="11.60" fill="#F47E74"/>
<text x="262.9" y="488.78" font-size="5.4" text-anchor="start" font-weight="normal" font-style="normal" fill="#111111" font-family="'Liberation Sans', sans-serif" stroke="#111" stroke-width="0.12">unknown genus (Bacteroidales S24-7 group)</text>
<rect x="252.10" y="492.35" width="9.40" height="11.60" fill="#141414"/>
<text x="262.9" y="500.95" font-size="5.4" text-anchor="start" font-weight="normal" font-style="normal" fill="#111111" font-family="'Liberation Sans', sans-serif" stroke="#111" stroke-width="0.12">Other</text>
<rect x="609.90" y="314.10" width="22.70" height="14.15" fill="#CD4A3E"/>
<rect x="632.60" y="314.10" width="23.90" height="14.15" fill="#CD4A3E"/>
<rect x="609.90" y="328.25" width="22.70" height="14.15" fill="#CD4A3E"/>
<rect x="632.60" y="328.25" width="23.90" height="14.15" fill="#CD4A3E"/>
<rect x="609.90" y="342.40" width="22.70" height="14.15" fill="#CD4A3E"/>
<rect x="632.60" y="342.40" width="23.90" height="14.15" fill="#CD4A3E"/>
<rect x="632.60" y="356.55" width="23.90" height="14.15" fill="#CD4A3E"/>
<rect x="632.60" y="370.70" width="23.90" height="14.15" fill="#4F81C6"/>
<rect x="632.60" y="384.85" width="23.90" height="14.15" fill="#4F81C6"/>
<rect x="632.60" y="399.00" width="23.90" height="14.15" fill="#4F81C6"/>
<rect x="609.90" y="413.15" width="22.70" height="56.60" fill="#DEDEDE"/>
<rect x="632.60" y="413.15" width="23.90" height="14.15" fill="#CD4A3E"/>
<rect x="632.60" y="427.30" width="23.90" height="14.15" fill="#CD4A3E"/>
<rect x="632.60" y="441.45" width="23.90" height="14.15" fill="#CD4A3E"/>
<rect x="632.60" y="455.60" width="23.90" height="14.15" fill="#4F81C6"/>
<line x1="586.70" y1="286.00" x2="656.50" y2="286.00" stroke="#1A1A1A" stroke-width="1.05"/>
<line x1="586.70" y1="286.00" x2="586.70" y2="469.75" stroke="#1A1A1A" stroke-width="1.05"/>
<line x1="586.70" y1="300.50" x2="656.50" y2="300.50" stroke="#1A1A1A" stroke-width="1.05"/>
<line x1="422.10" y1="300.50" x2="586.70" y2="300.50" stroke="#1A1A1A" stroke-width="1.05"/>
<line x1="422.10" y1="300.50" x2="422.10" y2="469.75" stroke="#1A1A1A" stroke-width="1.05"/>
<line x1="422.10" y1="314.10" x2="656.50" y2="314.10" stroke="#1A1A1A" stroke-width="1.05"/>
<line x1="376.30" y1="314.10" x2="422.10" y2="314.10" stroke="#1A1A1A" stroke-width="1.05"/>
<line x1="376.30" y1="314.10" x2="376.30" y2="469.75" stroke="#1A1A1A" stroke-width="1.05"/>
<line x1="609.90" y1="300.50" x2="609.90" y2="469.75" stroke="#1A1A1A" stroke-width="1.05"/>
<line x1="632.60" y1="300.50" x2="632.60" y2="469.75" stroke="#1A1A1A" stroke-width="1.05"/>
<line x1="376.30" y1="356.55" x2="656.50" y2="356.55" stroke="#1A1A1A" stroke-width="1.05"/>
<line x1="376.30" y1="413.15" x2="656.50" y2="413.15" stroke="#1A1A1A" stroke-width="1.05"/>
<line x1="376.30" y1="469.75" x2="656.50" y2="469.75" stroke="#1A1A1A" stroke-width="1.05"/>
<line x1="422.10" y1="328.25" x2="586.70" y2="328.25" stroke="#555555" stroke-width="0.5"/>
<line x1="632.60" y1="328.25" x2="656.50" y2="328.25" stroke="#333333" stroke-width="0.5"/>
<line x1="422.10" y1="342.40" x2="586.70" y2="342.40" stroke="#555555" stroke-width="0.5"/>
<line x1="632.60" y1="342.40" x2="656.50" y2="342.40" stroke="#333333" stroke-width="0.5"/>
<line x1="422.10" y1="370.70" x2="586.70" y2="370.70" stroke="#555555" stroke-width="0.5"/>
<line x1="632.60" y1="370.70" x2="656.50" y2="370.70" stroke="#333333" stroke-width="0.5"/>
<line x1="422.10" y1="384.85" x2="586.70" y2="384.85" stroke="#555555" stroke-width="0.5"/>
<line x1="632.60" y1="384.85" x2="656.50" y2="384.85" stroke="#333333" stroke-width="0.5"/>
<line x1="422.10" y1="399.00" x2="586.70" y2="399.00" stroke="#555555" stroke-width="0.5"/>
<line x1="632.60" y1="399.00" x2="656.50" y2="399.00" stroke="#333333" stroke-width="0.5"/>
<line x1="422.10" y1="427.30" x2="586.70" y2="427.30" stroke="#555555" stroke-width="0.5"/>
<line x1="632.60" y1="427.30" x2="656.50" y2="427.30" stroke="#333333" stroke-width="0.5"/>
<line x1="422.10" y1="441.45" x2="586.70" y2="441.45" stroke="#555555" stroke-width="0.5"/>
<line x1="632.60" y1="441.45" x2="656.50" y2="441.45" stroke="#333333" stroke-width="0.5"/>
<line x1="422.10" y1="455.60" x2="586.70" y2="455.60" stroke="#555555" stroke-width="0.5"/>
<line x1="632.60" y1="455.60" x2="656.50" y2="455.60" stroke="#333333" stroke-width="0.5"/>
<line x1="609.90" y1="328.25" x2="632.60" y2="328.25" stroke="#333333" stroke-width="0.5"/>
<line x1="609.90" y1="342.40" x2="632.60" y2="342.40" stroke="#333333" stroke-width="0.5"/>
<text x="621.5" y="295.9" font-size="9.2" text-anchor="middle" font-weight="bold" font-style="normal" fill="#111" font-family="'Liberation Sans', sans-serif" stroke="#111" stroke-width="0.25">Groups</text>
<text x="598.3" y="310.3" font-size="6.6" text-anchor="middle" font-weight="bold" font-style="normal" fill="#111" font-family="'Liberation Sans', sans-serif" stroke="#111" stroke-width="0.15">PL</text>
<text x="621.3" y="310.3" font-size="6.6" text-anchor="middle" font-weight="bold" font-style="normal" fill="#111" font-family="'Liberation Sans', sans-serif" stroke="#111" stroke-width="0.15">DL</text>
<text x="644.5" y="310.3" font-size="6.6" text-anchor="middle" font-weight="bold" font-style="normal" fill="#111" font-family="'Liberation Sans', sans-serif" stroke="#111" stroke-width="0.15">DL+Lf</text>
<text x="424.5" y="310.3" font-size="6.6" font-weight="bold" fill="#111" font-family="'Liberation Sans', sans-serif">(Phylum) <tspan font-style="italic">family_genus</tspan></text>
<text x="424.5" y="324.10" font-size="7.15" fill="#111" stroke="#111" stroke-width="0.1" font-family="'Liberation Sans', sans-serif">(F) <tspan font-style="italic">Lachnospiraceae_Hungatella</tspan></text>
<text x="424.5" y="338.25" font-size="7.15" fill="#111" stroke="#111" stroke-width="0.1" font-family="'Liberation Sans', sans-serif">(F) <tspan font-style="italic">Enterococcaceae_Enterococcus</tspan></text>
<text x="424.5" y="352.40" font-size="7.15" fill="#111" stroke="#111" stroke-width="0.1" font-family="'Liberation Sans', sans-serif">(Fu) <tspan font-style="italic">Fusobacteriaceae_Fusobacterium</tspan></text>
<text x="424.5" y="366.55" font-size="7.15" fill="#111" stroke="#111" stroke-width="0.1" font-family="'Liberation Sans', sans-serif">(F) <tspan font-style="italic">Lachnospiraceae_Lachnospiraceae</tspan> AC2044</text>
<text x="424.5" y="380.70" font-size="7.15" fill="#111" stroke="#111" stroke-width="0.1" font-family="'Liberation Sans', sans-serif">(B) <tspan font-style="italic"></tspan>p-2534-18B5 gut group_unknown genus</text>
<text x="424.5" y="394.85" font-size="7.15" fill="#111" stroke="#111" stroke-width="0.1" font-family="'Liberation Sans', sans-serif">(B) <tspan font-style="italic"></tspan>Porphyromonadaceae_unknown genus</text>
<text x="424.5" y="409.00" font-size="7.15" fill="#111" stroke="#111" stroke-width="0.1" font-family="'Liberation Sans', sans-serif">(B) <tspan font-style="italic">Prevotellaceae_Prevotella</tspan> 2</text>
<text x="424.5" y="423.15" font-size="7.15" fill="#111" stroke="#111" stroke-width="0.1" font-family="'Liberation Sans', sans-serif">(F) <tspan font-style="italic">Peptostreptococcaceae_Peptoclostridium</tspan></text>
<text x="424.5" y="437.30" font-size="7.15" fill="#111" stroke="#111" stroke-width="0.1" font-family="'Liberation Sans', sans-serif">(F) <tspan font-style="italic">Ruminococcaceae_Flavonifractor</tspan></text>
<text x="424.5" y="451.45" font-size="7.15" fill="#111" stroke="#111" stroke-width="0.1" font-family="'Liberation Sans', sans-serif">(F) <tspan font-style="italic">Lachnospiraceae_Lachnoclostridium</tspan></text>
<text x="424.5" y="465.60" font-size="7.15" fill="#111" stroke="#111" stroke-width="0.1" font-family="'Liberation Sans', sans-serif">(Fi) <tspan font-style="italic">Fibrobacteraceae_Fibrobacter</tspan></text>
<text x="399.20000000000005" y="328.94100000000003" font-size="7.6" text-anchor="middle" font-weight="bold" font-style="normal" fill="#111" font-family="'Liberation Sans', sans-serif">Effects of</text>
<text x="399.20000000000005" y="338.06100000000004" font-size="7.6" text-anchor="middle" font-weight="bold" font-style="normal" fill="#111" font-family="'Liberation Sans', sans-serif">dairy lipids</text>
<text x="399.20000000000005" y="347.18100000000004" font-size="7.6" text-anchor="middle" font-weight="bold" font-style="normal" fill="#111" font-family="'Liberation Sans', sans-serif">(DL)</text>
<text x="399.20000000000005" y="378.666" font-size="7.6" text-anchor="middle" font-weight="bold" font-style="normal" fill="#111" font-family="'Liberation Sans', sans-serif">Effects of</text>
<text x="399.20000000000005" y="387.786" font-size="7.6" text-anchor="middle" font-weight="bold" font-style="normal" fill="#111" font-family="'Liberation Sans', sans-serif">probiotic</text>
<text x="399.20000000000005" y="396.906" font-size="7.6" text-anchor="middle" font-weight="bold" font-style="normal" fill="#111" font-family="'Liberation Sans', sans-serif">Lf</text>
<text x="399.20000000000005" y="439.826" font-size="7.6" text-anchor="middle" font-weight="bold" font-style="normal" fill="#111" font-family="'Liberation Sans', sans-serif">Synergetic</text>
<text x="399.20000000000005" y="448.946" font-size="7.6" text-anchor="middle" font-weight="bold" font-style="normal" fill="#111" font-family="'Liberation Sans', sans-serif">effects</text>
<text x="600.8" y="335.32500000000005" font-size="7.4" text-anchor="middle" font-weight="normal" font-style="normal" fill="#111" font-family="'Liberation Sans', sans-serif" transform="rotate(-90 600.8 335.32500000000005)">Reference</text>
<text x="600.8" y="384.85" font-size="7.4" text-anchor="middle" font-weight="normal" font-style="normal" fill="#111" font-family="'Liberation Sans', sans-serif" transform="rotate(-90 600.8 384.85)">Reference</text>
<text x="623.75" y="384.85" font-size="7.4" text-anchor="middle" font-weight="normal" font-style="normal" fill="#111" font-family="'Liberation Sans', sans-serif" transform="rotate(-90 623.75 384.85)">Reference</text>
<text x="600.8" y="441.45000000000005" font-size="7.4" text-anchor="middle" font-weight="normal" font-style="normal" fill="#111" font-family="'Liberation Sans', sans-serif" transform="rotate(-90 600.8 441.45000000000005)">Reference</text>
<text x="445.0" y="487.2" font-size="6.1" text-anchor="end" font-weight="normal" font-style="normal" fill="#111" font-family="'Liberation Sans', sans-serif">Phylum:</text>
<text x="445.3" y="487.2" font-size="6.1" text-anchor="start" font-weight="normal" font-style="normal" fill="#111" font-family="'Liberation Sans', sans-serif">(B) :</text>
<text x="461.6" y="487.2" font-size="6.1" text-anchor="start" font-weight="normal" font-style="normal" fill="#111" font-family="'Liberation Sans', sans-serif">Bacteroidetes</text>
<text x="445.3" y="495.09999999999997" font-size="6.1" text-anchor="start" font-weight="normal" font-style="normal" fill="#111" font-family="'Liberation Sans', sans-serif">(Fi) :</text>
<text x="461.6" y="495.09999999999997" font-size="6.1" text-anchor="start" font-weight="normal" font-style="normal" fill="#111" font-family="'Liberation Sans', sans-serif">Fibrobacteres</text>
<text x="445.3" y="503.0" font-size="6.1" text-anchor="start" font-weight="normal" font-style="normal" fill="#111" font-family="'Liberation Sans', sans-serif">(F) :</text>
<text x="461.6" y="503.0" font-size="6.1" text-anchor="start" font-weight="normal" font-style="normal" fill="#111" font-family="'Liberation Sans', sans-serif">Firmicutes</text>
<text x="445.3" y="510.9" font-size="6.1" text-anchor="start" font-weight="normal" font-style="normal" fill="#111" font-family="'Liberation Sans', sans-serif">(Fu) :</text>
<text x="461.6" y="510.9" font-size="6.1" text-anchor="start" font-weight="normal" font-style="normal" fill="#111" font-family="'Liberation Sans', sans-serif">Fusobacteria</text>
<rect x="529.60" y="484.60" width="15.60" height="13.30" fill="#CD4A3E"/>
<rect x="529.60" y="497.90" width="15.60" height="12.80" fill="#4F81C6"/>
<text x="548.3" y="493.5" font-size="6.2" text-anchor="start" font-weight="bold" font-style="normal" fill="#111" font-family="'Liberation Sans', sans-serif">Abundance &gt; Reference</text>
<text x="548.3" y="506.4" font-size="6.2" text-anchor="start" font-weight="bold" font-style="normal" fill="#111" font-family="'Liberation Sans', sans-serif">Abundance &lt; Reference</text>
<rect x="23.80" y="589.40" width="230.00" height="138.40" fill="#F7F7F7"/>
<rect x="35.35" y="589.40" width="11.55" height="138.40" fill="#FAFAFA"/>
<rect x="58.45" y="589.40" width="11.55" height="138.40" fill="#FAFAFA"/>
<rect x="81.55" y="589.40" width="11.55" height="138.40" fill="#FAFAFA"/>
<rect x="104.65" y="589.40" width="11.55" height="138.40" fill="#FAFAFA"/>
<rect x="127.75" y="589.40" width="11.55" height="138.40" fill="#FAFAFA"/>
<rect x="150.85" y="589.40" width="11.55" height="138.40" fill="#FAFAFA"/>
<rect x="173.95" y="589.40" width="11.55" height="138.40" fill="#FAFAFA"/>
<rect x="197.05" y="589.40" width="11.55" height="138.40" fill="#FAFAFA"/>
<rect x="220.15" y="589.40" width="11.55" height="138.40" fill="#FAFAFA"/>
<rect x="243.25" y="589.40" width="11.55" height="138.40" fill="#FAFAFA"/>
<ellipse cx="139.0" cy="659" rx="103.4" ry="55.8" fill="#FFFFFF" stroke="#E4E4E4" stroke-width="0.9"/>
<line x1="139.30" y1="589.40" x2="139.30" y2="727.80" stroke="#6A6A6A" stroke-width="1.4"/>
<line x1="23.80" y1="658.80" x2="253.80" y2="658.80" stroke="#6A6A6A" stroke-width="1.4"/>
<line x1="23.80" y1="593.40" x2="23.80" y2="727.80" stroke="#000" stroke-width="1.0"/>
<line x1="23.80" y1="727.80" x2="252.80" y2="727.80" stroke="#000" stroke-width="1.0"/>
<polygon points="21.6,595.4 26.0,595.4 23.8,589.4" fill="#000"/>
<polygon points="248.8,725.5999999999999 248.8,730.0 254.8,727.8" fill="#000"/>
<line x1="21.60" y1="603.20" x2="23.80" y2="603.20" stroke="#000" stroke-width="0.7"/>
<text x="21.400000000000002" y="605.4" font-size="6.4" text-anchor="end" font-weight="bold" font-style="normal" fill="#111" font-family="'Liberation Serif', serif" letter-spacing="-0.3">2</text>
<line x1="22.70" y1="608.76" x2="23.80" y2="608.76" stroke="#000" stroke-width="0.45"/>
<line x1="22.70" y1="614.32" x2="23.80" y2="614.32" stroke="#000" stroke-width="0.45"/>
<line x1="22.70" y1="619.88" x2="23.80" y2="619.88" stroke="#000" stroke-width="0.45"/>
<line x1="22.70" y1="625.44" x2="23.80" y2="625.44" stroke="#000" stroke-width="0.45"/>
<line x1="21.60" y1="617.10" x2="23.80" y2="617.10" stroke="#000" stroke-width="0.7"/>
<text x="21.400000000000002" y="619.3" font-size="6.4" text-anchor="end" font-weight="bold" font-style="normal" fill="#111" font-family="'Liberation Serif', serif" letter-spacing="-0.3">1,5</text>
<line x1="22.70" y1="622.66" x2="23.80" y2="622.66" stroke="#000" stroke-width="0.45"/>
<line x1="22.70" y1="628.22" x2="23.80" y2="628.22" stroke="#000" stroke-width="0.45"/>
<line x1="22.70" y1="633.78" x2="23.80" y2="633.78" stroke="#000" stroke-width="0.45"/>
<line x1="22.70" y1="639.34" x2="23.80" y2="639.34" stroke="#000" stroke-width="0.45"/>
<line x1="21.60" y1="631.00" x2="23.80" y2="631.00" stroke="#000" stroke-width="0.7"/>
<text x="21.400000000000002" y="633.2" font-size="6.4" text-anchor="end" font-weight="bold" font-style="normal" fill="#111" font-family="'Liberation Serif', serif" letter-spacing="-0.3">1</text>
<line x1="22.70" y1="636.56" x2="23.80" y2="636.56" stroke="#000" stroke-width="0.45"/>
<line x1="22.70" y1="642.12" x2="23.80" y2="642.12" stroke="#000" stroke-width="0.45"/>
<line x1="22.70" y1="647.68" x2="23.80" y2="647.68" stroke="#000" stroke-width="0.45"/>
<line x1="22.70" y1="653.24" x2="23.80" y2="653.24" stroke="#000" stroke-width="0.45"/>
<line x1="21.60" y1="644.90" x2="23.80" y2="644.90" stroke="#000" stroke-width="0.7"/>
<text x="21.400000000000002" y="647.1" font-size="6.4" text-anchor="end" font-weight="bold" font-style="normal" fill="#111" font-family="'Liberation Serif', serif" letter-spacing="-0.3">0,5</text>
<line x1="22.70" y1="650.46" x2="23.80" y2="650.46" stroke="#000" stroke-width="0.45"/>
<line x1="22.70" y1="656.02" x2="23.80" y2="656.02" stroke="#000" stroke-width="0.45"/>
<line x1="22.70" y1="661.58" x2="23.80" y2="661.58" stroke="#000" stroke-width="0.45"/>
<line x1="22.70" y1="667.14" x2="23.80" y2="667.14" stroke="#000" stroke-width="0.45"/>
<line x1="21.60" y1="658.80" x2="23.80" y2="658.80" stroke="#000" stroke-width="0.7"/>
<text x="21.400000000000002" y="661.0" font-size="6.4" text-anchor="end" font-weight="bold" font-style="normal" fill="#111" font-family="'Liberation Serif', serif" letter-spacing="-0.3">0</text>
<line x1="22.70" y1="664.36" x2="23.80" y2="664.36" stroke="#000" stroke-width="0.45"/>
<line x1="22.70" y1="669.92" x2="23.80" y2="669.92" stroke="#000" stroke-width="0.45"/>
<line x1="22.70" y1="675.48" x2="23.80" y2="675.48" stroke="#000" stroke-width="0.45"/>
<line x1="22.70" y1="681.04" x2="23.80" y2="681.04" stroke="#000" stroke-width="0.45"/>
<line x1="21.60" y1="672.70" x2="23.80" y2="672.70" stroke="#000" stroke-width="0.7"/>
<text x="21.400000000000002" y="674.9" font-size="6.4" text-anchor="end" font-weight="bold" font-style="normal" fill="#111" font-family="'Liberation Serif', serif" letter-spacing="-0.3">-0,5</text>
<line x1="22.70" y1="678.26" x2="23.80" y2="678.26" stroke="#000" stroke-width="0.45"/>
<line x1="22.70" y1="683.82" x2="23.80" y2="683.82" stroke="#000" stroke-width="0.45"/>
<line x1="22.70" y1="689.38" x2="23.80" y2="689.38" stroke="#000" stroke-width="0.45"/>
<line x1="22.70" y1="694.94" x2="23.80" y2="694.94" stroke="#000" stroke-width="0.45"/>
<line x1="21.60" y1="686.60" x2="23.80" y2="686.60" stroke="#000" stroke-width="0.7"/>
<text x="21.400000000000002" y="688.8" font-size="6.4" text-anchor="end" font-weight="bold" font-style="normal" fill="#111" font-family="'Liberation Serif', serif" letter-spacing="-0.3">-1</text>
<line x1="22.70" y1="692.16" x2="23.80" y2="692.16" stroke="#000" stroke-width="0.45"/>
<line x1="22.70" y1="697.72" x2="23.80" y2="697.72" stroke="#000" stroke-width="0.45"/>
<line x1="22.70" y1="703.28" x2="23.80" y2="703.28" stroke="#000" stroke-width="0.45"/>
<line x1="22.70" y1="708.84" x2="23.80" y2="708.84" stroke="#000" stroke-width="0.45"/>
<line x1="21.60" y1="700.50" x2="23.80" y2="700.50" stroke="#000" stroke-width="0.7"/>
<text x="21.400000000000002" y="702.7" font-size="6.4" text-anchor="end" font-weight="bold" font-style="normal" fill="#111" font-family="'Liberation Serif', serif" letter-spacing="-0.3">-1,5</text>
<line x1="22.70" y1="706.06" x2="23.80" y2="706.06" stroke="#000" stroke-width="0.45"/>
<line x1="22.70" y1="711.62" x2="23.80" y2="711.62" stroke="#000" stroke-width="0.45"/>
<line x1="22.70" y1="717.18" x2="23.80" y2="717.18" stroke="#000" stroke-width="0.45"/>
<line x1="22.70" y1="722.74" x2="23.80" y2="722.74" stroke="#000" stroke-width="0.45"/>
<line x1="21.60" y1="714.40" x2="23.80" y2="714.40" stroke="#000" stroke-width="0.7"/>
<text x="21.400000000000002" y="716.6" font-size="6.4" text-anchor="end" font-weight="bold" font-style="normal" fill="#111" font-family="'Liberation Serif', serif" letter-spacing="-0.3">-2</text>
<line x1="22.70" y1="719.96" x2="23.80" y2="719.96" stroke="#000" stroke-width="0.45"/>
<line x1="22.70" y1="725.52" x2="23.80" y2="725.52" stroke="#000" stroke-width="0.45"/>
<line x1="22.70" y1="731.08" x2="23.80" y2="731.08" stroke="#000" stroke-width="0.45"/>
<line x1="22.70" y1="736.64" x2="23.80" y2="736.64" stroke="#000" stroke-width="0.45"/>
<line x1="21.60" y1="728.30" x2="23.80" y2="728.30" stroke="#000" stroke-width="0.7"/>
<text x="21.400000000000002" y="730.5" font-size="6.4" text-anchor="end" font-weight="bold" font-style="normal" fill="#111" font-family="'Liberation Serif', serif" letter-spacing="-0.3">-2,5</text>
<line x1="23.80" y1="727.80" x2="23.80" y2="730.00" stroke="#000" stroke-width="0.7"/>
<text x="23.80000000000001" y="737.5999999999999" font-size="6.4" text-anchor="middle" font-weight="bold" font-style="normal" fill="#111" font-family="'Liberation Serif', serif" letter-spacing="-0.3">-2,5</text>
<line x1="28.42" y1="727.80" x2="28.42" y2="728.90" stroke="#000" stroke-width="0.45"/>
<line x1="33.04" y1="727.80" x2="33.04" y2="728.90" stroke="#000" stroke-width="0.45"/>
<line x1="37.66" y1="727.80" x2="37.66" y2="728.90" stroke="#000" stroke-width="0.45"/>
<line x1="42.28" y1="727.80" x2="42.28" y2="728.90" stroke="#000" stroke-width="0.45"/>
<line x1="46.90" y1="727.80" x2="46.90" y2="730.00" stroke="#000" stroke-width="0.7"/>
<text x="46.900000000000006" y="737.5999999999999" font-size="6.4" text-anchor="middle" font-weight="bold" font-style="normal" fill="#111" font-family="'Liberation Serif', serif" letter-spacing="-0.3">-2</text>
<line x1="51.52" y1="727.80" x2="51.52" y2="728.90" stroke="#000" stroke-width="0.45"/>
<line x1="56.14" y1="727.80" x2="56.14" y2="728.90" stroke="#000" stroke-width="0.45"/>
<line x1="60.76" y1="727.80" x2="60.76" y2="728.90" stroke="#000" stroke-width="0.45"/>
<line x1="65.38" y1="727.80" x2="65.38" y2="728.90" stroke="#000" stroke-width="0.45"/>
<line x1="70.00" y1="727.80" x2="70.00" y2="730.00" stroke="#000" stroke-width="0.7"/>
<text x="70.0" y="737.5999999999999" font-size="6.4" text-anchor="middle" font-weight="bold" font-style="normal" fill="#111" font-family="'Liberation Serif', serif" letter-spacing="-0.3">-1,5</text>
<line x1="74.62" y1="727.80" x2="74.62" y2="728.90" stroke="#000" stroke-width="0.45"/>
<line x1="79.24" y1="727.80" x2="79.24" y2="728.90" stroke="#000" stroke-width="0.45"/>
<line x1="83.86" y1="727.80" x2="83.86" y2="728.90" stroke="#000" stroke-width="0.45"/>
<line x1="88.48" y1="727.80" x2="88.48" y2="728.90" stroke="#000" stroke-width="0.45"/>
<line x1="93.10" y1="727.80" x2="93.10" y2="730.00" stroke="#000" stroke-width="0.7"/>
<text x="93.10000000000001" y="737.5999999999999" font-size="6.4" text-anchor="middle" font-weight="bold" font-style="normal" fill="#111" font-family="'Liberation Serif', serif" letter-spacing="-0.3">-1</text>
<line x1="97.72" y1="727.80" x2="97.72" y2="728.90" stroke="#000" stroke-width="0.45"/>
<line x1="102.34" y1="727.80" x2="102.34" y2="728.90" stroke="#000" stroke-width="0.45"/>
<line x1="106.96" y1="727.80" x2="106.96" y2="728.90" stroke="#000" stroke-width="0.45"/>
<line x1="111.58" y1="727.80" x2="111.58" y2="728.90" stroke="#000" stroke-width="0.45"/>
<line x1="116.20" y1="727.80" x2="116.20" y2="730.00" stroke="#000" stroke-width="0.7"/>
<text x="116.20000000000002" y="737.5999999999999" font-size="6.4" text-anchor="middle" font-weight="bold" font-style="normal" fill="#111" font-family="'Liberation Serif', serif" letter-spacing="-0.3">-0,5</text>
<line x1="120.82" y1="727.80" x2="120.82" y2="728.90" stroke="#000" stroke-width="0.45"/>
<line x1="125.44" y1="727.80" x2="125.44" y2="728.90" stroke="#000" stroke-width="0.45"/>
<line x1="130.06" y1="727.80" x2="130.06" y2="728.90" stroke="#000" stroke-width="0.45"/>
<line x1="134.68" y1="727.80" x2="134.68" y2="728.90" stroke="#000" stroke-width="0.45"/>
<line x1="139.30" y1="727.80" x2="139.30" y2="730.00" stroke="#000" stroke-width="0.7"/>
<text x="139.3" y="737.5999999999999" font-size="6.4" text-anchor="middle" font-weight="bold" font-style="normal" fill="#111" font-family="'Liberation Serif', serif" letter-spacing="-0.3">0</text>
<line x1="143.92" y1="727.80" x2="143.92" y2="728.90" stroke="#000" stroke-width="0.45"/>
<line x1="148.54" y1="727.80" x2="148.54" y2="728.90" stroke="#000" stroke-width="0.45"/>
<line x1="153.16" y1="727.80" x2="153.16" y2="728.90" stroke="#000" stroke-width="0.45"/>
<line x1="157.78" y1="727.80" x2="157.78" y2="728.90" stroke="#000" stroke-width="0.45"/>
<line x1="162.40" y1="727.80" x2="162.40" y2="730.00" stroke="#000" stroke-width="0.7"/>
<text x="162.4" y="737.5999999999999" font-size="6.4" text-anchor="middle" font-weight="bold" font-style="normal" fill="#111" font-family="'Liberation Serif', serif" letter-spacing="-0.3">0,5</text>
<line x1="167.02" y1="727.80" x2="167.02" y2="728.90" stroke="#000" stroke-width="0.45"/>
<line x1="171.64" y1="727.80" x2="171.64" y2="728.90" stroke="#000" stroke-width="0.45"/>
<line x1="176.26" y1="727.80" x2="176.26" y2="728.90" stroke="#000" stroke-width="0.45"/>
<line x1="180.88" y1="727.80" x2="180.88" y2="728.90" stroke="#000" stroke-width="0.45"/>
<line x1="185.50" y1="727.80" x2="185.50" y2="730.00" stroke="#000" stroke-width="0.7"/>
<text x="185.5" y="737.5999999999999" font-size="6.4" text-anchor="middle" font-weight="bold" font-style="normal" fill="#111" font-family="'Liberation Serif', serif" letter-spacing="-0.3">1</text>
<line x1="190.12" y1="727.80" x2="190.12" y2="728.90" stroke="#000" stroke-width="0.45"/>
<line x1="194.74" y1="727.80" x2="194.74" y2="728.90" stroke="#000" stroke-width="0.45"/>
<line x1="199.36" y1="727.80" x2="199.36" y2="728.90" stroke="#000" stroke-width="0.45"/>
<line x1="203.98" y1="727.80" x2="203.98" y2="728.90" stroke="#000" stroke-width="0.45"/>
<line x1="208.60" y1="727.80" x2="208.60" y2="730.00" stroke="#000" stroke-width="0.7"/>
<text x="208.60000000000002" y="737.5999999999999" font-size="6.4" text-anchor="middle" font-weight="bold" font-style="normal" fill="#111" font-family="'Liberation Serif', serif" letter-spacing="-0.3">1,5</text>
<line x1="213.22" y1="727.80" x2="213.22" y2="728.90" stroke="#000" stroke-width="0.45"/>
<line x1="217.84" y1="727.80" x2="217.84" y2="728.90" stroke="#000" stroke-width="0.45"/>
<line x1="222.46" y1="727.80" x2="222.46" y2="728.90" stroke="#000" stroke-width="0.45"/>
<line x1="227.08" y1="727.80" x2="227.08" y2="728.90" stroke="#000" stroke-width="0.45"/>
<line x1="231.70" y1="727.80" x2="231.70" y2="730.00" stroke="#000" stroke-width="0.7"/>
<text x="231.70000000000002" y="737.5999999999999" font-size="6.4" text-anchor="middle" font-weight="bold" font-style="normal" fill="#111" font-family="'Liberation Serif', serif" letter-spacing="-0.3">2</text>
<line x1="236.32" y1="727.80" x2="236.32" y2="728.90" stroke="#000" stroke-width="0.45"/>
<line x1="240.94" y1="727.80" x2="240.94" y2="728.90" stroke="#000" stroke-width="0.45"/>
<line x1="245.56" y1="727.80" x2="245.56" y2="728.90" stroke="#000" stroke-width="0.45"/>
<text x="139.5" y="747.0" font-size="6.4" text-anchor="middle" font-weight="normal" font-style="normal" fill="#111" font-family="'Liberation Sans', sans-serif" stroke="#111" stroke-width="0.15">t[1]</text>
<text x="11.8" y="658.8" font-size="6.4" text-anchor="middle" font-weight="normal" font-style="normal" fill="#111" font-family="'Liberation Sans', sans-serif" transform="rotate(-90 11.8 658.8)" stroke="#111" stroke-width="0.15">t[2]</text>
<ellipse cx="96.5" cy="678.5" rx="50.4" ry="18.9" transform="rotate(-1.5 96.5 678.5)" fill="none" stroke="#747474" stroke-width="1.5"/>
<ellipse cx="150.6" cy="634.9" rx="58.8" ry="21.8" transform="rotate(14.7 150.6 634.9)" fill="none" stroke="#BEBEBE" stroke-width="1.5"/>
<ellipse cx="180.3" cy="667.6" rx="53" ry="18.9" transform="rotate(27.7 180.3 667.6)" fill="none" stroke="#111" stroke-width="1.4" stroke-dasharray="3.6,1.9"/>
<polygon points="72.2,672.7 73.8,675.1 72.2,677.5 70.60000000000001,675.1" fill="#D8D41E"/>
<text x="69.2" y="676.3000000000001" font-size="3.4" text-anchor="end" font-weight="normal" font-style="normal" fill="#C4C030" font-family="'Liberation Sans', sans-serif">Pos 72</text>
<polygon points="79.5,670.9 81.1,673.3 79.5,675.6999999999999 77.9,673.3" fill="#D8D41E"/>
<text x="82.3" y="674.5" font-size="3.4" text-anchor="start" font-weight="normal" font-style="normal" fill="#C4C030" font-family="'Liberation Sans', sans-serif">Pos 83</text>
<polygon points="87.9,662.4 89.5,664.8 87.9,667.1999999999999 86.30000000000001,664.8" fill="#D8D41E"/>
<text x="84.9" y="665.5999999999999" font-size="3.4" text-anchor="end" font-weight="normal" font-style="normal" fill="#C4C030" font-family="'Liberation Sans', sans-serif">Pos 74</text>
<polygon points="97.4,665.4 99.0,667.8 97.4,670.1999999999999 95.80000000000001,667.8" fill="#D8D41E"/>
<text x="98.4" y="664.4" font-size="3.4" text-anchor="start" font-weight="normal" font-style="normal" fill="#C4C030" font-family="'Liberation Sans', sans-serif">Pos 81</text>
<polygon points="111.6,667.4 113.19999999999999,669.8 111.6,672.1999999999999 110.0,669.8" fill="#D8D41E"/>
<text x="111.6" y="675.4" font-size="3.4" text-anchor="middle" font-weight="normal" font-style="normal" fill="#C4C030" font-family="'Liberation Sans', sans-serif">Pos 76</text>
<polygon points="116.6,665.0 118.19999999999999,667.4 116.6,669.8 115.0,667.4" fill="#D8D41E"/>
<polygon points="123.1,663.4 124.69999999999999,665.8 123.1,668.1999999999999 121.5,665.8" fill="#D8D41E"/>
<text x="125.89999999999999" y="667.0" font-size="3.4" text-anchor="start" font-weight="normal" font-style="normal" fill="#C4C030" font-family="'Liberation Sans', sans-serif">Pos 82</text>
<polygon points="143.4,670.3000000000001 145.0,672.7 143.4,675.1 141.8,672.7" fill="#D8D41E"/>
<polygon points="79.5,691.2 81.1,693.6 79.5,696.0 77.9,693.6" fill="#D8D41E"/>
<text x="82.3" y="694.8000000000001" font-size="3.4" text-anchor="start" font-weight="normal" font-style="normal" fill="#C4C030" font-family="'Liberation Sans', sans-serif">Pos 85</text>
<text x="123.5" y="674.0" font-size="3.4" text-anchor="start" font-weight="normal" font-style="normal" fill="#C4C030" font-family="'Liberation Sans', sans-serif">Pos 79</text>
<text x="130.5" y="674.0" font-size="3.4" text-anchor="start" font-weight="normal" font-style="normal" fill="#C4C030" font-family="'Liberation Sans', sans-serif">Pos 8</text>
<rect x="120.20" y="608.50" width="3.00" height="4.00" fill="#A8D060"/>
<text x="124.5" y="611.7" font-size="3.4" text-anchor="start" font-weight="normal" font-style="normal" fill="#98C060" font-family="'Liberation Sans', sans-serif">Pos 86</text>
<rect x="118.20" y="623.70" width="3.00" height="4.00" fill="#A8D060"/>
<text x="117.7" y="621.5" font-size="3.4" text-anchor="start" font-weight="normal" font-style="normal" fill="#98C060" font-family="'Liberation Sans', sans-serif">Pos 78</text>
<rect x="116.80" y="629.30" width="3.00" height="4.00" fill="#A8D060"/>
<text x="115.5" y="632.5" font-size="3.4" text-anchor="end" font-weight="normal" font-style="normal" fill="#98C060" font-family="'Liberation Sans', sans-serif">Pos 80</text>
<rect x="130.50" y="628.70" width="3.00" height="4.00" fill="#A8D060"/>
<text x="134.8" y="631.9000000000001" font-size="3.4" text-anchor="start" font-weight="normal" font-style="normal" fill="#98C060" font-family="'Liberation Sans', sans-serif">Pos 87</text>
<rect x="143.60" y="654.00" width="3.00" height="4.00" fill="#A8D060"/>
<text x="142.29999999999998" y="657.2" font-size="3.4" text-anchor="end" font-weight="normal" font-style="normal" fill="#98C060" font-family="'Liberation Sans', sans-serif">Pos 70</text>
<rect x="194.80" y="632.70" width="3.00" height="4.00" fill="#A8D060"/>
<text x="199.10000000000002" y="635.9000000000001" font-size="3.4" text-anchor="start" font-weight="normal" font-style="normal" fill="#98C060" font-family="'Liberation Sans', sans-serif">Pos 71</text>
<rect x="177.20" y="657.40" width="3.00" height="4.00" fill="#A8D060"/>
<text x="131.6" y="638.2" font-size="3.4" text-anchor="middle" font-weight="normal" font-style="normal" fill="#98C060" font-family="'Liberation Sans', sans-serif">Pos 89</text>
<ellipse cx="135.1" cy="650.2" rx="1.6" ry="2.1" fill="#2E9DD2"/>
<text x="137.9" y="651.4000000000001" font-size="3.4" text-anchor="start" font-weight="normal" font-style="normal" fill="#3898C8" font-family="'Liberation Sans', sans-serif">Pos 84</text>
<ellipse cx="177.8" cy="649.3" rx="1.6" ry="2.1" fill="#2E9DD2"/>
<text x="180.60000000000002" y="650.5" font-size="3.4" text-anchor="start" font-weight="normal" font-style="normal" fill="#3898C8" font-family="'Liberation Sans', sans-serif">Pos 88</text>
<ellipse cx="153.5" cy="665.2" rx="1.6" ry="2.1" fill="#2E9DD2"/>
<text x="150.7" y="666.4000000000001" font-size="3.4" text-anchor="end" font-weight="normal" font-style="normal" fill="#3898C8" font-family="'Liberation Sans', sans-serif">Pos 28</text>
<ellipse cx="156" cy="666.6" rx="1.6" ry="2.1" fill="#2E9DD2"/>
<ellipse cx="168.9" cy="662.7" rx="1.6" ry="2.1" fill="#2E9DD2"/>
<text x="168.9" y="668.5" font-size="3.4" text-anchor="middle" font-weight="normal" font-style="normal" fill="#3898C8" font-family="'Liberation Sans', sans-serif">Pos 38</text>
<ellipse cx="172.8" cy="659.4" rx="1.6" ry="2.1" fill="#2E9DD2"/>
<ellipse cx="187" cy="677.3" rx="1.6" ry="2.1" fill="#2E9DD2"/>
<text x="184.2" y="678.5" font-size="3.4" text-anchor="end" font-weight="normal" font-style="normal" fill="#3898C8" font-family="'Liberation Sans', sans-serif">Pos 77</text>
<ellipse cx="197.4" cy="673.6" rx="1.6" ry="2.1" fill="#2E9DD2"/>
<text x="200.20000000000002" y="674.8000000000001" font-size="3.4" text-anchor="start" font-weight="normal" font-style="normal" fill="#3898C8" font-family="'Liberation Sans', sans-serif">Pos 73</text>
<ellipse cx="206.8" cy="694.1" rx="1.6" ry="2.1" fill="#2E9DD2"/>
<text x="209.60000000000002" y="695.3000000000001" font-size="3.4" text-anchor="start" font-weight="normal" font-style="normal" fill="#3898C8" font-family="'Liberation Sans', sans-serif">Pos 75</text>
<text x="157.5" y="673.2" font-size="3.4" text-anchor="start" font-weight="normal" font-style="normal" fill="#3898C8" font-family="'Liberation Sans', sans-serif">Pos 64</text>
<line x1="262.80" y1="607.70" x2="282.30" y2="607.70" stroke="#000" stroke-width="1.4" stroke-dasharray="3.3,2.1"/>
<line x1="262.80" y1="619.30" x2="282.30" y2="619.30" stroke="#C4C4C4" stroke-width="1.4"/>
<line x1="262.80" y1="632.10" x2="282.30" y2="632.10" stroke="#7C7C7C" stroke-width="1.4"/>
<text x="285.4" y="608.3" font-size="11.2" text-anchor="start" font-weight="bold" font-style="normal" fill="#111" font-family="'Liberation Sans', sans-serif">PL</text>
<text x="285.4" y="621.1" font-size="11.2" text-anchor="start" font-weight="bold" font-style="normal" fill="#111" font-family="'Liberation Sans', sans-serif">DL</text>
<text x="285.4" y="632.6" font-size="11.2" text-anchor="start" font-weight="bold" font-style="normal" fill="#111" font-family="'Liberation Sans', sans-serif">DL+Lf</text>
<path d="M285.5 634.6 q1 -0.6 2 0 t2 0 t2 0 t2 0 t2 0 t2 0 t2 0 t2 0 t2 0 t2 0 t2 0 t2 0 t2 0 t2 0 t2 0 t2 0" fill="none" stroke="#E06060" stroke-width="0.45"/>
<rect x="549.60" y="607.10" width="69.70" height="39.70" fill="#CD4A3E"/>
<rect x="584.60" y="646.80" width="34.70" height="35.20" fill="#CD4A3E"/>
<rect x="584.60" y="682.00" width="34.70" height="104.00" fill="#4F81C6"/>
<rect x="513.40" y="646.80" width="36.20" height="35.20" fill="#DEDEDE"/>
<rect x="549.60" y="716.30" width="35.00" height="69.70" fill="#DEDEDE"/>
<line x1="513.40" y1="556.40" x2="619.30" y2="556.40" stroke="#1A1A1A" stroke-width="0.9"/>
<line x1="619.30" y1="556.40" x2="619.30" y2="786.00" stroke="#1A1A1A" stroke-width="0.9"/>
<line x1="513.40" y1="556.40" x2="513.40" y2="786.00" stroke="#1A1A1A" stroke-width="0.9"/>
<line x1="449.40" y1="571.70" x2="619.30" y2="571.70" stroke="#1A1A1A" stroke-width="0.9"/>
<line x1="449.40" y1="571.70" x2="449.40" y2="786.00" stroke="#1A1A1A" stroke-width="0.9"/>
<line x1="393.30" y1="607.10" x2="619.30" y2="607.10" stroke="#1A1A1A" stroke-width="0.9"/>
<line x1="393.30" y1="607.10" x2="393.30" y2="786.00" stroke="#1A1A1A" stroke-width="0.9"/>
<line x1="549.60" y1="571.70" x2="549.60" y2="786.00" stroke="#1A1A1A" stroke-width="0.9"/>
<line x1="584.60" y1="571.70" x2="584.60" y2="786.00" stroke="#1A1A1A" stroke-width="0.9"/>
<line x1="393.30" y1="646.80" x2="619.30" y2="646.80" stroke="#1A1A1A" stroke-width="0.9"/>
<line x1="393.30" y1="716.30" x2="619.30" y2="716.30" stroke="#1A1A1A" stroke-width="0.9"/>
<line x1="393.30" y1="786.00" x2="619.30" y2="786.00" stroke="#1A1A1A" stroke-width="0.9"/>
<line x1="449.40" y1="682.00" x2="549.60" y2="682.00" stroke="#333" stroke-width="0.6"/>
<line x1="584.60" y1="682.00" x2="619.30" y2="682.00" stroke="#333" stroke-width="0.6"/>
<line x1="449.40" y1="751.30" x2="513.40" y2="751.30" stroke="#333" stroke-width="0.6"/>
<line x1="584.60" y1="751.30" x2="619.30" y2="751.30" stroke="#333" stroke-width="0.6"/>
<text x="566.3" y="567.2" font-size="6.8" text-anchor="middle" font-weight="bold" font-style="normal" fill="#111" font-family="'Liberation Serif', serif" letter-spacing="0.6" stroke="#111" stroke-width="0.22">Groups</text>
<text x="481.8" y="587.4" font-size="6.8" text-anchor="middle" font-weight="bold" font-style="normal" fill="#111" font-family="'Liberation Serif', serif" letter-spacing="0.65" stroke="#111" stroke-width="0.22">Faecal</text>
<text x="481.8" y="597.6" font-size="6.8" text-anchor="middle" font-weight="bold" font-style="normal" fill="#111" font-family="'Liberation Serif', serif" letter-spacing="0.5" stroke="#111" stroke-width="0.22">metabolites</text>
<text x="531.8" y="592.5" font-size="6.8" text-anchor="middle" font-weight="bold" font-style="normal" fill="#111" font-family="'Liberation Serif', serif" letter-spacing="0.4" stroke="#111" stroke-width="0.22">PL</text>
<text x="567.1" y="592.5" font-size="6.8" text-anchor="middle" font-weight="bold" font-style="normal" fill="#111" font-family="'Liberation Serif', serif" letter-spacing="0.4" stroke="#111" stroke-width="0.22">DL</text>
<text x="602.4" y="592.5" font-size="6.8" text-anchor="middle" font-weight="bold" font-style="normal" fill="#111" font-family="'Liberation Serif', serif" letter-spacing="0.6" stroke="#111" stroke-width="0.22">DL+Lf</text>
<text x="421.4" y="625.5" font-size="6.9" text-anchor="middle" font-weight="bold" font-style="normal" fill="#111" font-family="'Liberation Serif', serif" letter-spacing="0.6" stroke="#111" stroke-width="0.22">Effects of</text>
<text x="421.4" y="635.2" font-size="6.9" text-anchor="middle" font-weight="bold" font-style="normal" fill="#111" font-family="'Liberation Serif', serif" letter-spacing="0.6" stroke="#111" stroke-width="0.22">dairy lipids</text>
<text x="421.4" y="680.5" font-size="6.9" text-anchor="middle" font-weight="bold" font-style="normal" fill="#111" font-family="'Liberation Serif', serif" letter-spacing="0.6" stroke="#111" stroke-width="0.22">Effects of</text>
<text x="421.4" y="690.2" font-size="6.9" text-anchor="middle" font-weight="bold" font-style="normal" fill="#111" font-family="'Liberation Serif', serif" letter-spacing="0.6" stroke="#111" stroke-width="0.22">probiotic L f</text>
<text x="421.4" y="749.7" font-size="6.9" text-anchor="middle" font-weight="bold" font-style="normal" fill="#111" font-family="'Liberation Serif', serif" letter-spacing="0.6" stroke="#111" stroke-width="0.22">Synergetic</text>
<text x="421.4" y="759.4" font-size="6.9" text-anchor="middle" font-weight="bold" font-style="normal" fill="#111" font-family="'Liberation Serif', serif" letter-spacing="0.6" stroke="#111" stroke-width="0.22">effects</text>
<text x="481.6" y="629.5" font-size="7.2" text-anchor="middle" font-weight="normal" font-style="normal" fill="#222" font-family="'Liberation Serif', serif" letter-spacing="0.45">Glycerol</text>
<text x="481.6" y="666.8" font-size="7.2" text-anchor="middle" font-weight="normal" font-style="normal" fill="#222" font-family="'Liberation Serif', serif" letter-spacing="0.45">Propionate</text>
<text x="481.6" y="701.6" font-size="7.2" text-anchor="middle" font-weight="normal" font-style="normal" fill="#222" font-family="'Liberation Serif', serif" letter-spacing="0.45">5-aminovalerate</text>
<text x="481.6" y="736.2" font-size="7.2" text-anchor="middle" font-weight="normal" font-style="normal" fill="#222" font-family="'Liberation Serif', serif" letter-spacing="0.45">2-oxoglutarate</text>
<text x="481.6" y="771.2" font-size="7.2" text-anchor="middle" font-weight="normal" font-style="normal" fill="#222" font-family="'Liberation Serif', serif" letter-spacing="0.45">L ysine</text>
<text x="534.1" y="626.5" font-size="7.3" text-anchor="middle" font-weight="normal" font-style="normal" fill="#111" font-family="'Liberation Serif', serif" transform="rotate(-90 534.1 626.5)" letter-spacing="0.3">Reference</text>
<text x="534.1" y="699.3" font-size="7.3" text-anchor="middle" font-weight="normal" font-style="normal" fill="#111" font-family="'Liberation Serif', serif" transform="rotate(-90 534.1 699.3)" letter-spacing="0.3">Reference</text>
<text x="569.7" y="681.5" font-size="7.3" text-anchor="middle" font-weight="normal" font-style="normal" fill="#111" font-family="'Liberation Serif', serif" transform="rotate(-90 569.7 681.5)" letter-spacing="0.3">Reference</text>
<text x="534.1" y="751.3" font-size="7.3" text-anchor="middle" font-weight="normal" font-style="normal" fill="#111" font-family="'Liberation Serif', serif" transform="rotate(-90 534.1 751.3)" letter-spacing="0.3">Reference</text>
<rect x="460.00" y="810.70" width="21.80" height="15.30" fill="#CD4A3E"/>
<rect x="460.00" y="826.00" width="21.80" height="15.00" fill="#4F81C6"/>
<text x="484.2" y="821.9" font-size="7.9" text-anchor="start" font-weight="bold" font-style="normal" fill="#111" font-family="'Liberation Sans', sans-serif">Abundance &gt; Reference</text>
<text x="484.2" y="836.4" font-size="7.9" text-anchor="start" font-weight="bold" font-style="normal" fill="#111" font-family="'Liberation Sans', sans-serif">Abundance &lt; Reference</text>
</svg></body></html>
